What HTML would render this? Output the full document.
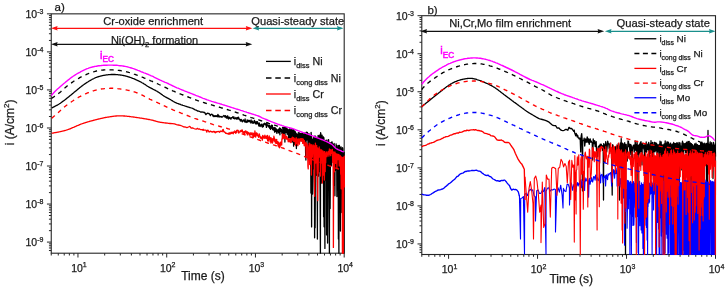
<!DOCTYPE html><html><head><meta charset="utf-8"><style>html,body{margin:0;padding:0;background:#fff;}body{width:725px;height:288px;overflow:hidden;position:relative;}svg text{font-family:"Liberation Sans",sans-serif;fill:#1a1a1a;stroke:#1a1a1a;stroke-width:0.25px;}svg{will-change:transform;}</style></head><body><svg width="725" height="288" viewBox="0 0 725 288" style="position:absolute;left:0;top:0">
<rect width="725" height="288" fill="#fff"/>
<rect x="51.25" y="13.85" width="292.95" height="239.35" fill="none" stroke="#262626" stroke-width="1.1"/>
<path d="M46.95,13.85H51.25M48.95,40.44H51.25M48.95,33.74H51.25M48.95,28.99H51.25M48.95,25.30H51.25M48.95,22.29H51.25M48.95,19.74H51.25M48.95,17.54H51.25M48.95,15.59H51.25M46.95,51.89H51.25M48.95,78.48H51.25M48.95,71.78H51.25M48.95,67.03H51.25M48.95,63.34H51.25M48.95,60.33H51.25M48.95,57.78H51.25M48.95,55.58H51.25M48.95,53.63H51.25M46.95,89.93H51.25M48.95,116.52H51.25M48.95,109.82H51.25M48.95,105.07H51.25M48.95,101.38H51.25M48.95,98.37H51.25M48.95,95.82H51.25M48.95,93.62H51.25M48.95,91.67H51.25M46.95,127.97H51.25M48.95,154.56H51.25M48.95,147.86H51.25M48.95,143.11H51.25M48.95,139.42H51.25M48.95,136.41H51.25M48.95,133.86H51.25M48.95,131.66H51.25M48.95,129.71H51.25M46.95,166.01H51.25M48.95,192.60H51.25M48.95,185.90H51.25M48.95,181.15H51.25M48.95,177.46H51.25M48.95,174.45H51.25M48.95,171.90H51.25M48.95,169.70H51.25M48.95,167.75H51.25M46.95,204.05H51.25M48.95,230.64H51.25M48.95,223.94H51.25M48.95,219.19H51.25M48.95,215.50H51.25M48.95,212.49H51.25M48.95,209.94H51.25M48.95,207.74H51.25M48.95,205.79H51.25M46.95,242.09H51.25M48.95,250.53H51.25M48.95,247.98H51.25M48.95,245.78H51.25M48.95,243.83H51.25M51.25,253.20V255.50M58.28,253.20V255.50M64.22,253.20V255.50M69.36,253.20V255.50M73.90,253.20V255.50M77.96,253.20V257.50M104.68,253.20V255.50M120.31,253.20V255.50M131.39,253.20V255.50M140.00,253.20V255.50M147.02,253.20V255.50M152.96,253.20V255.50M158.11,253.20V255.50M162.65,253.20V255.50M166.71,253.20V257.50M193.42,253.20V255.50M209.05,253.20V255.50M220.14,253.20V255.50M228.74,253.20V255.50M235.77,253.20V255.50M241.71,253.20V255.50M246.85,253.20V255.50M251.39,253.20V255.50M255.45,253.20V257.50M282.17,253.20V255.50M297.80,253.20V255.50M308.88,253.20V255.50M317.49,253.20V255.50M324.51,253.20V255.50M330.45,253.20V255.50M335.60,253.20V255.50M340.14,253.20V255.50M344.20,253.20V257.50" stroke="#262626" stroke-width="1" fill="none"/>
<text x="25.45" y="18.15" font-size="10.5">10<tspan font-size="7" dy="-3.9">-3</tspan></text>
<text x="25.45" y="56.19" font-size="10.5">10<tspan font-size="7" dy="-3.9">-4</tspan></text>
<text x="25.45" y="94.23" font-size="10.5">10<tspan font-size="7" dy="-3.9">-5</tspan></text>
<text x="25.45" y="132.27" font-size="10.5">10<tspan font-size="7" dy="-3.9">-6</tspan></text>
<text x="25.45" y="170.31" font-size="10.5">10<tspan font-size="7" dy="-3.9">-7</tspan></text>
<text x="25.45" y="208.35" font-size="10.5">10<tspan font-size="7" dy="-3.9">-8</tspan></text>
<text x="25.45" y="246.39" font-size="10.5">10<tspan font-size="7" dy="-3.9">-9</tspan></text>
<text x="71.16" y="271.80" font-size="10.5">10<tspan font-size="7" dy="-4.6">1</tspan></text>
<text x="159.91" y="271.80" font-size="10.5">10<tspan font-size="7" dy="-4.6">2</tspan></text>
<text x="248.65" y="271.80" font-size="10.5">10<tspan font-size="7" dy="-4.6">3</tspan></text>
<text x="337.40" y="271.80" font-size="10.5">10<tspan font-size="7" dy="-4.6">4</tspan></text>
<text x="54.5" y="10.8" font-size="11.5">a)</text>
<text transform="translate(14.0,122.4) rotate(-90)" text-anchor="middle" font-size="12">i (A/cm<tspan font-size="8" dy="-4.8">2</tspan><tspan dy="4.8">)</tspan></text>
<text x="203.0" y="279.9" text-anchor="middle" font-size="12">Time (s)</text>
<rect x="421.8" y="15.7" width="293.70" height="238.80" fill="none" stroke="#262626" stroke-width="1.1"/>
<path d="M417.50,15.70H421.80M419.50,42.29H421.80M419.50,35.59H421.80M419.50,30.84H421.80M419.50,27.15H421.80M419.50,24.14H421.80M419.50,21.59H421.80M419.50,19.39H421.80M419.50,17.44H421.80M417.50,53.74H421.80M419.50,80.33H421.80M419.50,73.63H421.80M419.50,68.88H421.80M419.50,65.19H421.80M419.50,62.18H421.80M419.50,59.63H421.80M419.50,57.43H421.80M419.50,55.48H421.80M417.50,91.78H421.80M419.50,118.37H421.80M419.50,111.67H421.80M419.50,106.92H421.80M419.50,103.23H421.80M419.50,100.22H421.80M419.50,97.67H421.80M419.50,95.47H421.80M419.50,93.52H421.80M417.50,129.82H421.80M419.50,156.41H421.80M419.50,149.71H421.80M419.50,144.96H421.80M419.50,141.27H421.80M419.50,138.26H421.80M419.50,135.71H421.80M419.50,133.51H421.80M419.50,131.56H421.80M417.50,167.86H421.80M419.50,194.45H421.80M419.50,187.75H421.80M419.50,183.00H421.80M419.50,179.31H421.80M419.50,176.30H421.80M419.50,173.75H421.80M419.50,171.55H421.80M419.50,169.60H421.80M417.50,205.90H421.80M419.50,232.49H421.80M419.50,225.79H421.80M419.50,221.04H421.80M419.50,217.35H421.80M419.50,214.34H421.80M419.50,211.79H421.80M419.50,209.59H421.80M419.50,207.64H421.80M417.50,243.94H421.80M419.50,252.38H421.80M419.50,249.83H421.80M419.50,247.63H421.80M419.50,245.68H421.80M421.80,254.50V256.80M428.84,254.50V256.80M434.80,254.50V256.80M439.96,254.50V256.80M444.51,254.50V256.80M448.58,254.50V258.80M475.37,254.50V256.80M491.03,254.50V256.80M502.15,254.50V256.80M510.77,254.50V256.80M517.82,254.50V256.80M523.77,254.50V256.80M528.93,254.50V256.80M533.48,254.50V256.80M537.56,254.50V258.80M564.34,254.50V256.80M580.01,254.50V256.80M591.12,254.50V256.80M599.74,254.50V256.80M606.79,254.50V256.80M612.75,254.50V256.80M617.91,254.50V256.80M622.46,254.50V256.80M626.53,254.50V258.80M653.31,254.50V256.80M668.98,254.50V256.80M680.09,254.50V256.80M688.72,254.50V256.80M695.76,254.50V256.80M701.72,254.50V256.80M706.88,254.50V256.80M711.43,254.50V256.80M715.50,254.50V258.80" stroke="#262626" stroke-width="1" fill="none"/>
<text x="396.00" y="20.00" font-size="10.5">10<tspan font-size="7" dy="-3.9">-3</tspan></text>
<text x="396.00" y="58.04" font-size="10.5">10<tspan font-size="7" dy="-3.9">-4</tspan></text>
<text x="396.00" y="96.08" font-size="10.5">10<tspan font-size="7" dy="-3.9">-5</tspan></text>
<text x="396.00" y="134.12" font-size="10.5">10<tspan font-size="7" dy="-3.9">-6</tspan></text>
<text x="396.00" y="172.16" font-size="10.5">10<tspan font-size="7" dy="-3.9">-7</tspan></text>
<text x="396.00" y="210.20" font-size="10.5">10<tspan font-size="7" dy="-3.9">-8</tspan></text>
<text x="396.00" y="248.24" font-size="10.5">10<tspan font-size="7" dy="-3.9">-9</tspan></text>
<text x="441.78" y="273.10" font-size="10.5">10<tspan font-size="7" dy="-4.6">1</tspan></text>
<text x="530.76" y="273.10" font-size="10.5">10<tspan font-size="7" dy="-4.6">2</tspan></text>
<text x="619.73" y="273.10" font-size="10.5">10<tspan font-size="7" dy="-4.6">3</tspan></text>
<text x="708.70" y="273.10" font-size="10.5">10<tspan font-size="7" dy="-4.6">4</tspan></text>
<text x="427.4" y="13.5" font-size="11.5">b)</text>
<text transform="translate(384.6,123.1) rotate(-90)" text-anchor="middle" font-size="12">i (A/cm<tspan font-size="8" dy="-4.8">2</tspan><tspan dy="4.8">)</tspan></text>
<text x="571.2" y="283.4" text-anchor="middle" font-size="12">Time (s)</text>
<polyline points="51.8,107.9 52.0,107.8 52.4,107.6 52.8,107.4 53.3,107.1 53.8,106.9 54.3,106.6 54.9,106.3 55.5,106.0 56.1,105.7 56.7,105.4 57.2,105.1 57.8,104.8 58.3,104.5 58.8,104.2 59.4,103.8 59.9,103.5 60.4,103.2 60.9,102.8 61.4,102.5 61.9,102.1 62.4,101.7 62.9,101.3 63.5,100.9 64.1,100.5 64.7,100.0 65.1,99.7 65.6,99.3 66.1,98.9 66.6,98.5 67.1,98.1 67.6,97.7 68.1,97.3 68.6,96.9 69.1,96.5 69.7,96.0 70.2,95.6 70.7,95.1 71.3,94.7 71.9,94.2 72.4,93.8 73.0,93.3 73.5,92.9 73.9,92.5 74.4,92.1 74.9,91.7 75.4,91.3 75.9,90.9 76.4,90.5 76.9,90.1 77.4,89.7 77.9,89.2 78.4,88.8 78.9,88.4 79.4,88.0 79.9,87.6 80.4,87.1 81.0,86.7 81.5,86.3 82.0,85.9 82.5,85.6 83.0,85.2 83.5,84.8 84.0,84.5 84.5,84.1 85.1,83.7 85.6,83.4 86.1,83.0 86.7,82.7 87.2,82.3 87.7,82.0 88.2,81.7 88.8,81.3 89.3,81.0 89.8,80.7 90.3,80.4 90.9,80.1 91.4,79.8 91.9,79.5 92.3,79.2 92.8,79.0 93.3,78.8 93.9,78.5 94.4,78.2 95.0,78.0 95.5,77.7 96.1,77.5 96.6,77.3 97.1,77.1 97.6,76.9 98.1,76.8 98.6,76.6 99.1,76.5 99.7,76.3 100.2,76.2 100.7,76.1 101.2,75.9 101.7,75.8 102.2,75.7 102.7,75.6 103.3,75.4 103.8,75.3 104.3,75.3 104.8,75.2 105.3,75.1 105.9,75.0 106.4,74.9 106.9,74.9 107.4,74.8 107.9,74.8 108.4,74.7 109.0,74.7 109.5,74.6 110.0,74.6 110.5,74.6 111.0,74.5 111.6,74.5 112.1,74.5 112.6,74.5 113.1,74.5 113.6,74.5 114.2,74.5 114.7,74.5 115.2,74.5 115.7,74.6 116.2,74.6 116.8,74.6 117.3,74.7 117.8,74.7 118.3,74.8 118.8,74.8 119.3,74.9 119.8,74.9 120.3,75.0 120.8,75.1 121.3,75.1 121.8,75.2 122.3,75.3 122.8,75.4 123.3,75.5 123.8,75.6 124.3,75.7 124.8,75.8 125.3,75.9 125.8,76.1 126.3,76.2 126.8,76.3 127.3,76.5 127.9,76.6 128.4,76.8 128.9,77.0 129.4,77.1 130.0,77.3 130.5,77.5 131.0,77.7 131.5,77.9 132.1,78.1 132.6,78.3 133.1,78.5 133.7,78.7 134.2,78.9 134.7,79.1 135.2,79.3 135.8,79.6 136.3,79.8 136.9,80.1 137.4,80.3 138.0,80.6 138.5,80.9 139.1,81.2 139.6,81.4 140.1,81.7 140.7,82.0 141.2,82.2 141.6,82.5 142.1,82.8 142.6,83.0 143.0,83.2 143.6,83.6 144.2,84.0 144.7,84.3 145.2,84.6 145.7,85.0 146.2,85.3 146.6,85.6 147.1,85.9 147.5,86.2 148.0,86.5 148.5,86.8 149.0,87.1 149.5,87.4 150.0,87.6 150.5,87.9 151.0,88.1 151.5,88.4 152.0,88.7 152.5,88.9 153.0,89.2 153.5,89.5 154.0,89.7 154.4,90.0 154.9,90.2 155.4,90.4 155.9,90.7 156.4,91.0 156.9,91.2 157.4,91.6 158.0,91.9 158.5,92.2 159.0,92.5 159.5,92.9 160.0,93.2 160.5,93.6 161.1,94.0 161.6,94.4 162.2,94.8 162.7,95.2 163.2,95.5 163.7,95.9 164.2,96.2 164.7,96.5 165.3,96.8 165.8,97.1 166.3,97.4 166.7,97.7 167.2,97.9 167.7,98.1 168.1,98.4 168.6,98.6 169.1,98.9 169.7,99.2 170.1,99.5 170.6,99.7 171.1,100.0 171.5,100.3 172.0,100.6 172.5,100.9 173.0,101.2 173.5,101.5 174.1,101.8 174.6,102.1 175.2,102.4 175.7,102.6 176.3,102.9 176.8,103.1 177.2,103.3 177.7,103.5 178.2,103.7 178.7,103.9 179.2,104.1 179.8,104.2 180.3,104.4 180.8,104.6 181.3,104.8 181.9,105.0 182.4,105.1 182.9,105.3 183.5,105.5 184.0,105.7 184.5,105.8 185.0,106.0 185.5,106.2 186.1,106.4 186.6,106.5 187.1,106.7 187.7,106.9 188.2,107.1 188.7,107.2 189.3,107.4 189.8,107.6 190.0,107.6 191.4,108.0 192.7,108.4 194.0,109.2 195.2,109.8 196.4,110.2 197.5,111.0 198.7,111.1 199.8,111.5 200.8,112.2 201.9,112.0 202.9,112.2 203.4,112.1 203.9,112.6 204.4,112.3 204.9,112.8 205.4,113.9 205.9,114.6 206.4,114.1 206.9,113.5 207.4,113.2 207.9,113.4 208.4,113.7 208.9,113.4 209.4,113.9 209.9,114.7 210.4,115.6 210.9,114.7 211.4,114.3 211.9,114.1 212.4,114.6 212.9,116.0 213.4,115.2 213.9,116.7 214.4,116.2 214.9,115.7 215.4,116.5 215.9,115.7 216.4,116.5 216.9,115.7 217.4,116.7 217.9,114.5 218.4,116.9 218.9,115.5 219.4,116.7 219.9,117.1 220.4,116.5 220.9,116.7 221.4,116.5 221.9,117.3 222.4,116.9 222.9,116.6 223.4,115.9 223.9,115.5 224.4,115.8 224.9,117.0 225.4,115.7 225.9,117.5 226.4,116.5 226.9,118.3 227.4,115.8 227.9,116.2 228.4,119.0 228.9,117.9 229.4,117.2 229.9,118.6 230.4,117.9 230.9,119.2 231.4,117.6 231.9,117.8 232.4,117.5 232.9,116.7 233.4,118.3 233.9,116.8 234.4,118.8 234.9,118.5 235.4,118.7 235.9,117.5 236.4,119.1 236.9,118.4 237.4,117.5 237.9,119.2 238.4,117.1 238.9,118.3 239.4,119.6 239.9,119.4 240.4,121.1 240.9,119.4 241.4,119.6 241.9,121.4 242.4,121.8 242.9,120.7 243.4,119.9 243.9,120.3 244.4,121.8 244.9,121.0 245.1,119.0 245.4,121.9 245.9,122.2 246.1,122.5 246.4,122.2 246.6,121.4 246.9,121.9 247.1,119.9 247.4,120.5 247.6,122.2 247.9,120.7 248.1,120.5 248.4,121.7 248.6,120.3 248.9,120.8 249.1,121.3 249.4,121.5 249.6,120.4 249.9,121.8 250.1,121.6 250.4,122.0 250.6,122.1 250.9,123.2 251.1,119.9 251.4,122.4 251.6,122.1 251.9,122.2 252.4,122.0 252.6,121.1 252.9,123.3 253.1,122.3 253.4,122.8 253.6,122.3 253.9,123.2 254.1,122.1 254.4,120.3 254.6,121.6 254.9,121.3 255.1,122.6 255.4,123.0 255.6,123.4 255.9,124.1 256.1,121.8 256.4,122.7 256.6,121.6 256.9,122.7 257.1,123.8 257.4,121.7 257.6,123.0 257.9,123.7 258.1,123.0 258.4,123.7 258.6,125.0 258.9,126.0 259.1,122.8 259.4,123.4 259.6,126.1 259.9,125.8 260.1,124.3 260.4,125.8 260.6,125.9 260.9,126.5 261.1,125.1 261.4,125.0 261.6,124.6 261.9,124.0 262.1,124.3 262.4,127.1 262.6,125.7 262.9,125.6 263.1,125.3 263.4,126.5 263.6,124.0 263.9,124.2 264.1,123.6 264.4,123.8 264.6,123.2 264.9,124.5 265.1,123.5 265.4,124.8 265.6,124.1 265.9,124.3 266.1,123.8 266.4,127.4 266.6,124.1 266.9,123.3 267.1,125.3 267.4,125.5 267.6,125.2 267.9,125.9 268.1,125.0 268.4,126.8 268.6,126.3 268.9,127.1 269.1,126.3 269.4,125.1 269.6,128.1 269.9,126.1 270.1,128.7 270.4,127.1 270.6,129.4 270.9,128.4 271.1,125.8 271.4,125.2 271.6,127.3 271.9,128.3 272.1,125.9 272.4,125.4 272.6,129.6 272.9,127.6 273.1,129.8 273.4,127.9 273.6,128.1 273.9,127.8 274.1,130.4 274.4,128.1 274.6,132.2 274.9,127.4 275.1,130.6 275.4,131.3 275.6,128.8 275.9,128.4 276.1,131.8 276.4,129.2 276.6,131.9 276.9,133.4 277.1,129.9 277.4,131.9 277.6,130.9 277.9,131.6 278.1,130.1 278.4,129.2 278.6,132.9 278.9,131.3 279.1,129.4 279.4,131.6 279.6,128.0 279.9,134.8 280.1,128.8 280.4,130.7 280.6,128.3 280.9,131.3 281.1,129.3 281.4,129.3 281.6,131.3 281.9,133.4 282.1,132.1 282.4,130.7 282.6,136.4 282.9,127.4 283.1,132.7 283.4,137.7 283.6,127.3 283.9,128.2 284.1,132.0 284.4,131.0 284.6,127.1 284.9,142.0 285.1,131.4 285.4,129.7 285.6,127.7 285.9,127.4 286.1,132.4 286.4,128.5 286.6,131.3 286.9,128.2 287.1,134.2 287.4,133.2 287.6,129.3 287.9,134.5 288.1,129.7 288.4,130.4 288.6,138.2 288.9,130.2 289.1,138.1 289.4,129.1 289.6,137.5 289.9,128.7 290.1,134.1 290.4,130.8 290.6,138.9 290.9,137.6 291.1,130.7 291.4,129.7 291.6,133.3 291.9,131.2 292.1,142.1 292.4,140.1 292.6,130.4 292.9,129.5 293.1,131.0 293.4,129.6 293.6,146.2 293.9,130.1 294.1,139.3 294.4,144.4 294.6,131.3 294.9,135.8 295.1,131.3 295.4,132.4 295.6,138.9 295.9,133.0 296.1,138.6 296.4,148.6 296.6,133.9 296.9,135.4 297.1,145.5 297.4,134.3 297.6,138.8 297.9,134.0 298.1,140.3 298.4,135.2 298.6,140.8 298.9,133.4 299.1,139.0 299.4,134.0 299.6,139.9 299.9,133.4 300.1,136.1 300.4,139.6 300.6,135.1 300.9,140.8 301.1,133.4 301.4,138.1 301.6,135.0 301.9,134.1 302.1,136.9 302.4,140.9 302.6,133.3 302.9,137.8 303.1,135.3 303.4,134.2 303.6,139.6 303.9,142.7 304.1,134.5 304.4,133.1 304.6,136.3 304.9,134.0 305.1,139.4 305.4,133.1 305.6,152.5 305.9,160.0 306.1,134.6 306.4,132.1 306.6,140.2 306.9,133.1 307.1,139.8 307.4,132.3 307.6,138.1 307.9,133.4 308.1,158.0 308.4,151.4 308.6,134.1 308.9,142.7 309.1,134.0 309.4,134.1 309.6,149.0 309.9,135.3 310.1,158.0 310.4,157.3 310.6,137.4 310.9,193.1 311.1,132.4 311.4,137.0 311.6,226.9 311.9,137.8 312.1,182.5 312.4,139.5 312.6,194.0 312.9,175.0 313.1,140.1 313.4,146.4 313.6,137.6 313.9,139.8 314.1,169.0 314.4,138.8 314.6,237.8 314.9,135.9 315.1,227.7 315.4,180.0 315.6,136.4 315.9,137.7 316.1,175.2 316.4,138.3 316.6,172.0 316.9,153.2 317.1,138.0 317.4,239.0 317.6,140.0 317.9,149.8 318.1,135.4 318.4,176.2 318.6,136.3 318.9,135.9 319.1,153.8 319.4,171.6 319.6,137.4 319.9,134.8 320.1,188.3 320.4,253.2 320.6,132.7 320.9,134.1 321.1,183.4 321.4,182.1 321.6,139.1 321.9,164.3 322.1,135.2 322.4,140.3 322.6,166.9 322.9,163.3 323.1,137.8 323.4,136.8 323.6,216.7 323.9,137.6 324.1,226.8 324.4,142.9 324.6,153.4 324.9,248.4 325.1,140.3 325.4,176.9 325.6,141.5 325.9,180.0 326.1,142.4 326.4,140.2 326.6,234.9 326.9,141.2 327.1,197.3 327.4,141.8 327.6,243.0 327.9,183.5 328.1,139.8 328.4,185.0 328.6,139.7 328.9,145.4 329.1,168.0 329.4,253.0 329.6,143.3 329.9,142.7 330.1,208.5 330.4,165.6 330.6,143.6 330.9,142.8 331.1,145.5 331.4,165.8 331.6,142.2 331.9,161.9 332.1,142.0 332.4,161.7 332.6,144.0 332.9,152.3 333.1,144.5 333.4,145.6 333.6,185.6 333.9,159.7 334.1,143.4 334.4,147.2 334.6,162.4 334.9,195.8 335.1,152.0 335.4,170.5 335.6,147.1 335.9,156.1 336.1,143.9 336.4,165.6 336.6,145.4 336.9,196.6 337.1,148.4 337.4,180.4 337.6,146.9 337.9,182.8 338.1,145.4 338.4,239.0 338.6,152.1 338.9,253.2 339.1,146.3 339.4,145.3 339.6,151.3 339.9,146.8 340.1,176.6 340.4,231.0 340.6,149.6 340.9,158.5 341.1,147.0 341.4,185.0 341.6,149.5 341.9,212.5 342.1,148.6 342.4,169.9 342.6,147.7 342.9,149.0 343.1,190.6 343.4,152.1 343.6,192.8 343.9,253.0 344.1,152.0" fill="none" stroke="#000000" stroke-width="1.3" stroke-linejoin="round"/>
<polyline points="51.5,98.5 52.2,98.0 53.0,97.4 54.1,96.7 55.3,95.9 56.5,95.0 57.7,94.2 58.8,93.3 59.9,92.4 61.0,91.5 62.1,90.5 63.2,89.5 64.2,88.5 65.3,87.6 66.3,86.7 67.4,85.8 68.4,85.0 69.3,84.3 70.3,83.6 71.4,82.9 72.5,82.1 73.4,81.5 74.4,80.8 75.5,80.2 76.5,79.5 77.6,78.9 78.7,78.3 79.7,77.7 80.8,77.1 81.8,76.6 82.9,76.0 83.9,75.5 85.0,75.0 86.1,74.6 87.1,74.1 88.2,73.7 89.2,73.3 90.2,72.9 91.2,72.5 92.2,72.2 93.2,71.9 94.3,71.6 95.3,71.3 96.4,71.0 97.5,70.8 98.4,70.6 99.4,70.5 100.4,70.3 101.4,70.2 102.4,70.1 103.5,70.0 104.5,69.9 105.5,69.9 106.5,69.8 107.5,69.8 108.6,69.8 109.6,69.8 110.7,69.8 111.7,69.8 112.7,69.9 113.8,70.0 114.8,70.0 115.7,70.1 116.7,70.2 117.8,70.3 118.8,70.4 119.8,70.5 120.8,70.6 121.7,70.8 122.7,70.9 123.7,71.1 124.7,71.3 125.7,71.5 126.8,71.8 127.8,72.1 128.8,72.4 129.9,72.7 130.9,73.0 132.0,73.4 133.0,73.7 134.0,74.1 135.1,74.4 136.1,74.8 137.1,75.2 138.2,75.6 139.2,76.0 140.3,76.4 141.3,76.8 142.3,77.2 143.4,77.6 144.4,78.1 145.5,78.5 146.6,79.0 147.6,79.4 148.7,79.9 149.7,80.3 150.7,80.8 151.8,81.2 152.8,81.7 153.9,82.1 154.9,82.6 155.9,83.1 157.0,83.5 158.0,84.0 159.0,84.5 160.1,85.0 161.1,85.5 162.1,85.9 163.2,86.4 164.2,86.9 165.3,87.4 166.3,87.9 167.3,88.4 168.4,88.9 169.4,89.4 170.5,89.8 171.6,90.3 172.6,90.8 173.7,91.2 174.7,91.7 175.7,92.1 176.8,92.6 177.8,93.0 178.9,93.4 179.9,93.8 180.9,94.2 182.0,94.6 183.0,95.0 184.0,95.4 185.1,95.8 186.1,96.2 187.1,96.6 188.2,97.0 189.2,97.4 190.3,97.8 191.3,98.2 192.3,98.6 193.4,99.0 194.4,99.4 195.5,99.8 196.5,100.2 197.6,100.6 198.6,100.9 199.7,101.3 200.8,101.6 201.8,102.0 202.9,102.3 204.0,102.6 205.1,103.0 206.2,103.3 207.2,103.6 208.3,103.9 209.4,104.2 210.4,104.5 211.5,104.8 212.5,105.2 213.6,105.5 214.6,105.8 215.7,106.1 216.7,106.4 217.7,106.7 218.8,107.0 219.8,107.3 220.9,107.7 221.9,108.0 222.9,108.3 224.0,108.6 225.0,108.9 226.0,109.2 227.1,109.5 228.1,109.8 229.1,110.1 230.2,110.4 231.2,110.7 232.3,111.1 233.3,111.4 234.3,111.7 235.4,112.1 236.4,112.5 237.5,112.8 238.6,113.2 239.6,113.6 240.7,113.9 241.7,114.3 242.8,114.7 243.8,115.1 244.9,115.4 246.0,115.8 247.0,116.2 248.0,116.6 249.0,116.9 250.0,117.2 251.2,117.6 252.3,117.9 253.3,118.2 254.4,118.5 255.5,118.8 256.7,119.2 257.6,119.5 258.6,119.8 259.5,120.1 260.5,120.5 261.6,120.8 262.6,121.2 263.8,121.6 265.0,122.0 265.9,122.3 266.9,122.6 267.9,123.0 268.9,123.3 270.0,123.6 271.1,124.0 272.2,124.3 273.3,124.7 274.4,125.1 275.6,125.4 276.7,125.8 277.7,126.1 278.6,126.4 279.6,126.7 280.6,127.0 281.6,127.3 282.6,127.7 283.7,128.0 284.7,128.3 285.7,128.6 286.8,129.0 287.8,129.3 288.9,129.6 290.0,130.0 291.0,130.3 291.9,130.6 292.9,130.9 293.9,131.3 294.9,131.6 295.9,131.9 296.9,132.3 297.9,132.6 298.9,132.9 299.9,133.3 301.0,133.6 302.0,134.0 303.0,134.3 304.0,134.7 305.0,135.0 306.0,135.4 307.0,135.7 308.0,136.1 309.1,136.4 310.1,136.8 311.1,137.2 312.1,137.5 313.1,137.9 314.1,138.3 315.1,138.6 316.1,139.0 317.1,139.4 318.1,139.8 319.1,140.1 320.0,140.5 321.1,140.9 322.1,141.4 323.2,141.8 324.2,142.2 325.3,142.6 326.3,143.1 327.3,143.5 328.3,143.9 329.2,144.3 330.2,144.8 331.1,145.2 332.1,145.6 333.0,146.0 334.2,146.5 335.5,147.1 336.7,147.7 338.0,148.3 339.2,148.8 340.3,149.4 341.3,149.9 342.3,150.3 343.1,150.7 343.7,151.0" fill="none" stroke="#000000" stroke-width="1.35" stroke-dasharray="4.1,4.2" stroke-linejoin="round"/>
<polyline points="51.7,133.3 52.0,133.2 52.3,133.2 52.6,133.1 52.9,133.1 53.3,133.0 53.7,132.9 54.1,132.8 54.6,132.7 55.0,132.7 55.5,132.6 56.0,132.5 56.5,132.4 57.1,132.3 57.6,132.2 58.2,132.1 58.7,132.0 59.3,131.8 59.9,131.7 60.4,131.6 61.0,131.5 61.6,131.3 62.2,131.2 62.8,131.1 63.4,130.9 63.9,130.8 64.5,130.6 65.1,130.5 65.6,130.3 66.2,130.2 66.7,130.0 67.2,129.8 67.7,129.7 68.1,129.5 68.6,129.3 69.1,129.1 69.6,129.0 70.1,128.8 70.6,128.6 71.1,128.4 71.6,128.2 72.1,127.9 72.6,127.7 73.1,127.5 73.6,127.3 74.1,127.1 74.6,126.8 75.1,126.6 75.7,126.4 76.2,126.2 76.7,125.9 77.2,125.7 77.7,125.5 78.2,125.3 78.7,125.1 79.2,124.9 79.7,124.6 80.3,124.4 80.8,124.2 81.3,124.0 81.8,123.8 82.3,123.7 82.8,123.5 83.3,123.3 83.8,123.1 84.3,123.0 84.8,122.8 85.4,122.6 85.9,122.5 86.4,122.3 87.0,122.1 87.5,122.0 88.0,121.8 88.6,121.7 89.1,121.5 89.6,121.4 90.2,121.2 90.7,121.1 91.3,120.9 91.8,120.8 92.3,120.6 92.9,120.5 93.4,120.4 93.9,120.2 94.4,120.1 94.9,120.0 95.4,119.8 95.9,119.7 96.4,119.6 96.9,119.5 97.4,119.3 97.8,119.2 98.3,119.1 98.7,119.0 99.2,118.9 99.6,118.8 100.0,118.7 100.7,118.5 101.3,118.4 101.9,118.3 102.4,118.1 103.0,118.0 103.5,117.9 104.0,117.8 104.5,117.7 105.0,117.6 105.4,117.5 105.9,117.4 106.3,117.4 106.8,117.3 107.2,117.2 107.7,117.1 108.1,117.1 108.6,117.0 109.0,116.9 109.5,116.9 110.0,116.8 110.5,116.7 111.0,116.7 111.5,116.6 111.9,116.5 112.4,116.4 112.9,116.4 113.4,116.3 113.8,116.2 114.3,116.2 114.8,116.1 115.3,116.1 115.8,116.0 116.3,116.0 116.8,115.9 117.3,115.9 117.8,115.8 118.3,115.8 118.9,115.8 119.4,115.8 120.0,115.8 120.5,115.8 120.9,115.8 121.4,115.8 121.8,115.8 122.3,115.9 122.8,115.9 123.3,115.9 123.7,116.0 124.2,116.0 124.7,116.0 125.2,116.1 125.7,116.1 126.2,116.2 126.7,116.2 127.3,116.3 127.8,116.3 128.3,116.4 128.8,116.4 129.4,116.5 129.9,116.6 130.5,116.6 131.0,116.7 131.6,116.8 132.2,116.9 132.7,116.9 133.3,117.0 133.8,117.1 134.2,117.1 134.7,117.2 135.2,117.3 135.7,117.3 136.2,117.4 136.7,117.5 137.3,117.6 137.8,117.6 138.3,117.7 138.9,117.8 139.4,117.9 139.9,118.0 140.5,118.1 141.0,118.1 141.6,118.2 142.1,118.3 142.7,118.4 143.2,118.5 143.7,118.6 144.3,118.7 144.8,118.8 145.3,118.8 145.8,118.9 146.3,119.0 146.8,119.1 147.3,119.2 147.8,119.3 148.3,119.4 148.7,119.5 149.2,119.5 149.6,119.6 150.0,119.7 150.6,119.8 151.3,120.0 151.9,120.1 152.4,120.2 152.9,120.4 153.5,120.5 154.0,120.6 154.4,120.8 154.9,120.9 155.4,121.0 155.8,121.2 156.2,121.3 156.7,121.4 157.1,121.5 157.6,121.7 158.0,121.8 158.5,121.9 159.0,122.0 159.5,122.1 160.0,122.2 160.5,122.3 161.0,122.4 161.5,122.4 162.0,122.5 162.5,122.6 163.0,122.7 163.5,122.7 164.0,122.8 164.6,122.8 165.1,122.9 165.6,123.0 166.1,123.0 166.7,123.1 167.2,123.1 167.7,123.2 168.2,123.3 168.7,123.3 169.2,123.4 169.7,123.5 170.0,123.5 172.3,123.7 174.5,123.9 176.5,124.6 178.4,125.0 180.3,125.4 182.0,126.0 183.7,126.8 185.3,127.0 186.9,127.7 188.4,127.0 189.8,126.3 191.2,128.2 192.5,127.8 193.8,128.5 195.0,128.9 196.2,129.2 197.4,128.4 198.5,129.2 199.6,129.0 200.7,129.7 201.7,129.7 202.7,130.1 203.2,129.2 203.7,130.3 204.2,130.0 204.7,130.2 205.2,130.1 205.7,130.2 206.2,130.4 206.7,132.2 207.2,130.8 207.7,130.1 208.2,130.5 208.7,131.5 209.2,132.0 209.7,131.7 210.2,131.1 210.7,131.1 211.2,131.8 211.7,131.6 212.2,131.9 212.7,132.1 213.2,131.5 213.7,131.5 214.2,132.0 214.7,131.4 215.2,132.9 215.7,132.3 216.2,131.7 216.7,132.1 217.2,131.7 217.7,131.7 218.2,131.4 218.7,131.7 219.2,131.8 219.7,132.3 220.2,131.1 220.7,131.4 221.2,131.1 221.7,131.3 222.2,131.7 222.7,129.8 223.2,129.4 223.7,131.5 224.2,132.0 224.7,132.0 225.2,132.6 225.7,133.3 226.2,133.1 226.7,133.5 227.2,133.4 227.7,133.9 228.2,133.5 228.7,134.2 229.2,132.7 229.7,134.0 230.2,134.1 230.7,132.7 231.2,132.2 231.7,133.5 232.2,132.7 232.7,132.2 233.2,133.8 233.7,131.9 234.2,132.5 234.7,132.3 235.2,131.9 235.7,133.4 236.2,132.7 236.7,130.3 237.2,130.2 237.7,130.3 238.2,130.4 238.7,133.0 239.2,132.3 239.7,131.9 240.2,130.9 240.7,131.8 241.2,130.1 241.7,131.5 242.2,129.9 242.7,132.0 243.2,133.3 243.7,131.8 244.2,131.6 244.7,134.7 244.9,132.3 245.2,131.3 245.4,130.9 245.7,132.1 245.9,131.7 246.2,131.3 246.4,132.5 246.7,133.4 246.9,133.8 247.2,131.9 247.4,134.9 247.7,132.0 247.9,133.9 248.2,132.9 248.4,132.7 248.7,133.1 248.9,133.7 249.2,134.9 249.4,135.2 249.7,133.4 249.9,133.1 250.2,132.8 250.4,134.5 250.7,134.2 250.9,135.0 251.2,134.7 251.4,134.5 251.7,132.9 251.9,134.2 252.2,133.0 252.4,134.1 252.7,134.0 252.9,137.2 253.2,137.5 253.4,134.5 253.7,133.2 253.9,135.5 254.2,136.6 254.4,136.1 254.7,136.2 254.9,131.0 255.2,134.5 255.4,135.9 255.7,137.1 255.9,135.9 256.2,133.4 256.4,132.8 256.7,135.2 256.9,134.0 257.2,133.3 257.4,135.5 257.7,135.5 257.9,135.6 258.2,136.4 258.4,135.2 258.7,137.3 258.9,134.8 259.2,133.8 259.4,134.1 259.7,136.0 259.9,136.1 260.2,136.8 260.4,138.1 260.7,137.4 260.9,137.0 261.2,136.9 261.4,138.6 261.7,138.4 261.9,138.0 262.2,137.4 262.4,140.1 262.7,135.4 262.9,138.0 263.2,137.1 263.4,136.7 263.7,136.4 263.9,138.2 264.2,138.3 264.4,135.8 264.7,137.0 264.9,135.2 265.2,138.2 265.4,138.1 265.7,136.9 265.9,137.9 266.2,136.1 266.4,138.7 266.7,136.8 266.9,136.4 267.2,137.9 267.4,135.4 267.7,140.9 267.9,139.2 268.2,137.5 268.4,141.0 268.7,139.7 268.9,138.2 269.2,136.0 269.4,137.8 269.7,139.4 269.9,137.4 270.2,141.6 270.4,138.2 270.7,138.0 270.9,143.0 271.2,138.0 271.4,141.9 271.7,138.8 271.9,141.6 272.2,140.1 272.4,143.0 272.7,138.6 272.9,141.8 273.2,139.5 273.4,140.5 273.7,138.7 273.9,136.2 274.2,139.0 274.4,137.9 274.7,141.5 274.9,139.1 275.2,139.5 275.4,143.0 275.7,139.9 275.9,142.6 276.2,141.6 276.4,143.3 276.7,139.4 276.9,143.2 277.2,141.9 277.4,143.5 277.7,141.7 277.9,144.6 278.2,146.1 278.4,142.2 278.7,143.9 278.9,146.9 279.2,145.2 279.4,147.8 279.7,143.1 279.9,147.0 280.2,145.8 280.4,142.1 280.7,145.2 280.9,144.8 281.2,142.2 281.4,144.9 281.7,145.0 281.9,139.0 282.2,139.2 282.4,133.8 282.7,137.2 282.9,136.8 283.2,138.6 283.4,134.4 283.7,136.5 283.9,135.1 284.2,137.3 284.4,134.3 284.7,138.6 284.9,136.5 285.2,136.2 285.4,138.0 285.7,137.4 285.9,136.3 286.2,136.7 286.4,139.1 286.7,136.1 286.9,136.8 287.2,137.6 287.4,138.2 287.7,139.6 287.9,138.7 288.2,141.8 288.4,138.6 288.7,139.6 288.9,140.4 289.2,139.4 289.4,141.6 289.7,141.8 289.9,138.9 290.2,139.3 290.4,141.5 290.7,138.6 290.9,142.7 291.2,142.0 291.4,138.4 291.7,139.9 291.9,137.9 292.2,138.5 292.4,137.2 292.7,138.4 292.9,140.5 293.2,137.7 293.4,140.3 293.7,141.4 293.9,137.8 294.2,139.2 294.4,141.3 294.7,141.1 294.9,138.9 295.2,140.6 295.4,145.5 295.7,139.5 295.9,141.4 296.2,137.7 296.4,143.6 296.7,141.8 296.9,139.0 297.2,143.9 297.4,139.4 297.7,139.2 297.9,145.7 298.2,139.3 298.4,140.5 298.7,138.8 298.9,141.1 299.2,139.5 299.4,144.2 299.7,140.0 299.9,138.8 300.2,139.5 300.4,139.0 300.7,138.7 300.9,139.8 301.2,141.3 301.4,138.7 301.7,138.7 301.9,139.6 302.2,140.7 302.4,139.0 302.7,143.4 302.9,138.7 303.2,140.2 303.4,139.4 303.7,140.7 303.9,142.6 304.2,145.6 304.4,140.7 304.7,145.0 304.9,142.0 305.2,143.0 305.4,146.2 305.7,144.6 305.9,143.1 306.2,157.2 306.4,143.0 306.7,144.5 306.9,147.1 307.2,144.3 307.4,146.8 307.7,145.7 307.9,166.3 308.2,168.9 308.4,147.9 308.7,149.1 308.9,159.6 309.2,143.1 309.4,148.2 309.7,164.5 309.9,146.5 310.2,144.2 310.4,148.7 310.7,145.1 310.9,163.9 311.2,145.1 311.4,175.0 311.7,144.7 311.9,157.8 312.2,146.4 312.4,157.1 312.7,145.9 312.9,151.3 313.2,144.8 313.4,153.7 313.7,145.8 313.9,159.5 314.2,146.1 314.4,178.0 314.7,196.3 314.9,145.6 315.2,160.0 315.4,143.1 315.7,163.1 315.9,149.2 316.2,159.2 316.4,145.7 316.7,145.4 316.9,161.4 317.2,174.2 317.4,147.8 317.7,200.7 317.9,162.1 318.2,173.2 318.4,148.9 318.7,152.6 318.9,150.4 319.2,146.9 319.4,157.0 319.7,148.8 319.9,151.0 320.2,150.8 320.4,176.0 320.7,150.0 320.9,162.1 321.2,154.9 321.4,149.9 321.7,150.1 321.9,157.6 322.2,152.3 322.4,183.1 322.7,156.9 322.9,150.9 323.2,157.2 323.4,172.0 323.7,175.1 323.9,152.5 324.2,151.6 324.4,180.0 324.7,151.6 324.9,153.5 325.2,171.6 325.4,153.1 325.7,162.8 325.9,153.3 326.2,156.0 326.4,151.8 326.7,154.0 326.9,156.7 327.2,155.8 327.4,154.2 327.7,154.3 327.9,152.5 328.2,151.4 328.4,153.1 328.7,152.1 328.9,156.2 329.2,154.4 329.4,149.0 329.7,149.8 329.9,151.0 330.2,151.9 330.4,153.6 330.7,155.7 330.9,149.7 331.2,150.6 331.4,152.6 331.7,152.2 331.9,153.5 332.2,153.6 332.4,149.4 332.7,162.6 332.9,151.3 333.2,152.5 333.4,247.4 333.7,153.6 333.9,152.3 334.2,153.2 334.4,171.8 334.7,161.1 334.9,151.8 335.2,153.3 335.4,155.6 335.7,163.3 335.9,154.0 336.2,154.4 336.4,153.8 336.7,154.5 336.9,168.3 337.2,154.6 337.4,158.9 337.7,154.2 337.9,159.7 338.2,155.6 338.4,159.5 338.7,158.2 338.9,154.3 339.2,166.1 339.4,155.8 339.7,161.8 339.9,156.3 340.2,155.5 340.4,158.2 340.7,174.3 340.9,156.9 341.2,188.8 341.4,157.0 341.7,160.2 341.9,175.0 342.2,161.4 342.4,253.2 342.7,157.5 342.9,240.0 343.2,158.6 343.4,253.0 343.7,157.2 343.9,161.9 344.2,156.2 344.4,187.4" fill="none" stroke="#ff0000" stroke-width="1.3" stroke-linejoin="round"/>
<polyline points="51.7,118.3 52.4,117.7 53.4,116.8 54.6,115.8 55.9,114.6 57.1,113.5 58.3,112.5 59.4,111.5 60.4,110.6 61.4,109.6 62.4,108.6 63.5,107.7 64.7,106.7 65.6,106.0 66.6,105.2 67.7,104.5 68.7,103.7 69.8,103.0 70.9,102.2 71.9,101.5 73.0,100.8 74.0,100.1 75.1,99.5 76.1,98.8 77.1,98.2 78.2,97.5 79.2,96.9 80.3,96.4 81.3,95.8 82.3,95.3 83.4,94.8 84.4,94.3 85.5,93.8 86.6,93.3 87.6,92.9 88.7,92.5 89.7,92.1 90.7,91.7 91.8,91.4 92.8,91.0 93.9,90.7 94.9,90.4 95.9,90.1 97.0,89.8 98.0,89.6 99.0,89.4 100.1,89.2 101.1,89.0 102.2,88.9 103.2,88.8 104.3,88.7 105.3,88.6 106.3,88.5 107.4,88.4 108.4,88.3 109.5,88.3 110.5,88.2 111.6,88.2 112.7,88.2 114.0,88.3 114.9,88.4 115.8,88.4 116.8,88.5 117.8,88.7 118.9,88.8 119.9,88.9 121.0,89.1 122.1,89.2 123.1,89.4 124.1,89.5 125.0,89.7 126.1,89.9 127.2,90.1 128.2,90.3 129.2,90.5 130.2,90.8 131.2,91.0 132.1,91.3 133.1,91.5 134.0,91.8 135.2,92.2 136.3,92.6 137.4,93.0 138.4,93.4 139.5,93.9 140.6,94.4 141.7,94.9 142.7,95.4 143.7,95.9 144.7,96.5 145.7,97.0 146.7,97.6 147.8,98.2 148.9,98.7 150.0,99.3 150.9,99.7 151.9,100.2 152.9,100.6 153.9,101.1 154.9,101.5 155.9,102.0 156.9,102.4 158.0,102.9 159.0,103.3 160.0,103.8 161.0,104.3 162.0,104.7 163.0,105.2 163.9,105.7 164.9,106.2 165.9,106.7 166.9,107.2 167.9,107.7 169.0,108.1 170.0,108.6 171.0,109.0 172.0,109.4 173.0,109.9 174.0,110.3 175.0,110.7 176.1,111.1 177.1,111.5 178.1,111.9 179.1,112.3 180.1,112.7 181.1,113.1 182.2,113.5 183.2,113.9 184.3,114.3 185.3,114.8 186.3,115.2 187.3,115.5 188.3,115.9 189.3,116.3 190.2,116.7 191.1,117.0 192.3,117.5 193.5,117.9 194.5,118.3 195.6,118.7 196.7,119.0 197.7,119.4 198.9,119.8 200.0,120.2 201.1,120.5 202.2,120.9 203.4,121.2 204.5,121.6 205.6,121.9 206.7,122.3 207.8,122.6 209.0,123.0 210.1,123.4 211.2,123.8 212.2,124.2 213.3,124.6 214.4,124.9 215.6,125.3 216.7,125.6 217.8,125.9 218.9,126.2 220.1,126.5 221.2,126.8 222.3,127.0 223.4,127.3 224.4,127.6 225.5,127.9 226.5,128.2 227.3,128.5 228.3,128.8 229.5,129.2 231.1,129.8 231.9,130.1 232.7,130.4 233.6,130.7 234.6,131.1 235.6,131.4 236.7,131.8 237.7,132.2 238.8,132.6 240.0,133.0 241.1,133.4 242.2,133.9 243.4,134.3 244.5,134.7 245.6,135.1 246.7,135.5 247.7,135.9 248.7,136.2 249.7,136.6 250.8,137.0 251.8,137.4 252.8,137.8 253.9,138.1 254.9,138.5 256.0,138.9 257.0,139.3 258.1,139.7 259.1,140.0 260.2,140.4 261.2,140.8 262.3,141.1 263.3,141.5 264.4,141.9 265.4,142.2 266.6,142.6 267.7,143.0 268.8,143.3 270.0,143.7 271.1,144.1 272.2,144.4 273.3,144.8 274.4,145.1 275.5,145.5 276.5,145.8 277.4,146.1 278.4,146.4 279.2,146.7 280.0,147.0 281.5,147.6 282.8,148.0 283.8,148.4 284.6,148.8 285.5,149.2 286.4,149.6 287.5,150.0 288.4,150.3 289.4,150.7 290.4,151.0 291.3,151.4 292.4,151.7 293.4,152.1 294.5,152.5 295.6,152.9 296.7,153.3 297.6,153.7 298.6,154.0 299.5,154.4 300.5,154.8 301.5,155.2 302.5,155.7 303.6,156.1 304.7,156.6 305.8,157.0 307.0,157.5 308.3,158.0 309.2,158.3 310.1,158.7 311.0,159.0 312.0,159.4 312.9,159.8 313.9,160.1 315.0,160.5 316.0,160.9 317.1,161.3 318.1,161.7 319.2,162.1 320.3,162.5 321.3,162.8 322.4,163.2 323.5,163.6 324.5,164.0 325.6,164.4 326.6,164.8 327.7,165.2 328.8,165.6 330.0,166.0 331.1,166.4 332.3,166.8 333.5,167.3 334.7,167.7 335.9,168.1 337.0,168.5 338.1,168.9 339.2,169.3 340.2,169.6 341.1,170.0 342.0,170.3 342.8,170.6 343.4,170.8 344.0,171.0" fill="none" stroke="#ff0000" stroke-width="1.35" stroke-dasharray="4.1,4.2" stroke-linejoin="round"/>
<polyline points="51.3,95.4 52.0,94.7 52.9,93.7 54.0,92.5 55.2,91.2 56.5,90.0 57.5,89.1 58.5,88.2 59.6,87.2 60.7,86.2 61.9,85.2 63.0,84.3 64.2,83.3 65.2,82.5 66.2,81.6 67.3,80.7 68.3,79.9 69.4,79.1 70.4,78.2 71.5,77.4 72.5,76.7 73.5,76.0 74.6,75.3 75.6,74.7 76.6,74.0 77.7,73.4 78.7,72.8 79.8,72.3 80.8,71.7 81.8,71.2 82.9,70.6 83.9,70.1 85.0,69.6 86.1,69.1 87.1,68.7 88.2,68.3 89.2,67.9 90.2,67.6 91.3,67.3 92.3,67.0 93.4,66.8 94.4,66.5 95.4,66.4 96.5,66.2 97.5,66.0 98.5,65.8 99.6,65.7 100.6,65.6 101.6,65.5 102.7,65.4 103.7,65.3 104.8,65.3 105.8,65.2 106.9,65.2 108.0,65.1 109.1,65.1 110.2,65.1 111.2,65.1 112.3,65.1 113.3,65.2 114.2,65.2 115.5,65.3 116.7,65.3 117.8,65.4 118.8,65.6 120.0,65.7 121.0,65.8 122.0,65.9 123.0,66.0 124.0,66.2 125.1,66.4 126.3,66.6 127.3,66.8 128.3,67.1 129.3,67.4 130.4,67.7 131.5,68.0 132.6,68.4 133.6,68.7 134.7,69.1 135.7,69.5 136.8,69.9 137.8,70.3 138.9,70.7 139.9,71.1 140.9,71.6 142.0,72.0 143.0,72.4 144.0,72.8 145.1,73.2 146.1,73.6 147.1,74.0 148.2,74.4 149.2,74.9 150.3,75.3 151.3,75.8 152.3,76.2 153.4,76.7 154.4,77.3 155.5,77.8 156.6,78.3 157.6,78.9 158.7,79.4 159.7,79.9 160.8,80.4 161.9,80.9 163.0,81.3 164.1,81.8 165.1,82.3 166.2,82.7 167.1,83.1 168.0,83.5 169.2,84.1 170.1,84.5 170.9,85.0 171.8,85.4 173.0,86.0 173.9,86.4 174.8,86.8 175.9,87.3 176.9,87.8 178.0,88.2 179.1,88.7 180.2,89.2 181.3,89.6 182.3,90.0 183.4,90.4 184.4,90.9 185.5,91.3 186.6,91.7 187.6,92.1 188.7,92.5 189.7,92.9 190.7,93.3 191.7,93.7 192.7,94.1 193.7,94.5 194.7,94.9 195.8,95.4 196.9,95.8 198.0,96.2 199.0,96.6 200.0,97.0 201.0,97.4 202.1,97.9 203.1,98.3 204.2,98.7 205.3,99.1 206.3,99.5 207.3,99.9 208.3,100.2 209.4,100.6 210.5,100.9 211.6,101.3 212.6,101.6 213.6,101.9 214.7,102.2 215.7,102.5 216.7,102.8 217.7,103.1 218.8,103.4 219.8,103.7 220.9,104.0 221.9,104.4 222.9,104.7 224.0,105.0 225.0,105.3 226.0,105.6 227.1,106.0 228.1,106.3 229.1,106.6 230.2,107.0 231.2,107.3 232.3,107.7 233.3,108.0 234.3,108.3 235.4,108.7 236.4,109.0 237.5,109.3 238.6,109.6 239.6,109.9 240.7,110.3 241.7,110.6 242.7,110.9 243.8,111.3 244.8,111.6 245.9,111.9 246.9,112.3 247.9,112.6 249.0,113.0 250.0,113.3 251.1,113.6 252.2,114.0 253.3,114.3 254.4,114.7 255.4,115.0 256.5,115.4 257.4,115.7 258.3,116.0 259.5,116.5 260.4,116.9 261.2,117.3 262.1,117.8 263.3,118.3 264.2,118.7 265.2,119.1 266.2,119.5 267.3,120.0 268.4,120.5 269.5,120.9 270.6,121.4 271.7,121.8 272.7,122.2 273.8,122.6 274.8,123.0 275.9,123.4 276.9,123.8 277.9,124.2 279.0,124.5 280.0,124.9 281.1,125.2 282.2,125.6 283.3,125.9 284.4,126.3 285.4,126.6 286.5,126.9 287.4,127.1 288.3,127.4 289.5,127.7 290.4,128.0 291.2,128.2 292.1,128.5 293.3,128.9 294.2,129.2 295.2,129.6 296.2,130.0 297.3,130.4 298.4,130.8 299.5,131.2 300.6,131.6 301.7,132.0 302.7,132.4 303.8,132.7 304.8,133.1 305.9,133.4 306.9,133.8 307.9,134.1 309.0,134.5 310.0,134.9 311.0,135.3 312.1,135.7 313.1,136.1 314.1,136.5 315.2,137.0 316.2,137.4 317.3,137.8 318.3,138.2 319.4,138.7 320.5,139.1 321.6,139.5 322.7,139.9 323.7,140.3 324.8,140.8 325.8,141.2 326.7,141.6 328.1,142.3 329.3,143.0 330.5,143.6 331.5,144.3 332.5,145.0 333.7,146.2 334.6,147.3 336.0,148.5 336.9,149.0 338.1,149.6 339.4,150.2 340.7,150.7 341.9,151.3 343.0,151.7 343.7,152.0" fill="none" stroke="#ff00ff" stroke-width="1.4" stroke-linejoin="round"/>
<polyline points="421.7,106.7 422.0,106.5 422.4,106.2 422.8,105.8 423.3,105.4 423.8,105.0 424.4,104.5 425.0,104.1 425.6,103.6 426.2,103.1 426.8,102.6 427.3,102.2 427.8,101.8 428.3,101.4 428.8,101.0 429.3,100.5 429.8,100.2 430.3,99.8 430.7,99.4 431.1,99.1 431.6,98.7 432.1,98.3 432.7,97.8 433.3,97.3 433.7,96.9 434.2,96.6 434.7,96.2 435.2,95.7 435.8,95.3 436.3,94.9 436.9,94.4 437.5,94.0 438.1,93.5 438.6,93.0 439.2,92.6 439.7,92.2 440.3,91.7 440.8,91.3 441.3,91.0 441.7,90.6 442.4,90.1 442.9,89.6 443.5,89.2 444.0,88.8 444.5,88.4 445.0,88.0 445.4,87.6 445.9,87.3 446.4,86.9 447.0,86.5 447.5,86.2 448.0,85.8 448.5,85.5 449.0,85.1 449.5,84.8 450.1,84.5 450.6,84.1 451.1,83.8 451.7,83.5 452.2,83.2 452.8,82.9 453.3,82.6 453.8,82.4 454.3,82.1 454.8,81.9 455.3,81.7 455.8,81.5 456.3,81.3 456.8,81.1 457.3,80.9 457.8,80.7 458.3,80.5 458.9,80.3 459.4,80.2 460.0,80.0 460.5,79.9 461.0,79.7 461.5,79.6 462.0,79.5 462.6,79.4 463.2,79.2 463.7,79.1 464.3,79.0 464.8,78.9 465.4,78.8 465.9,78.7 466.4,78.7 466.9,78.6 467.4,78.5 467.9,78.4 468.3,78.4 469.0,78.3 469.6,78.3 470.1,78.3 470.6,78.3 471.1,78.3 471.5,78.4 472.0,78.4 472.5,78.5 473.0,78.6 473.5,78.7 474.0,78.8 474.4,78.9 474.9,79.0 475.4,79.1 475.9,79.2 476.5,79.4 477.0,79.6 477.6,79.8 478.3,80.0 478.7,80.2 479.2,80.3 479.7,80.5 480.2,80.7 480.7,80.9 481.2,81.0 481.8,81.2 482.3,81.5 482.9,81.7 483.4,81.9 484.0,82.1 484.5,82.3 485.1,82.6 485.6,82.8 486.2,83.1 486.7,83.3 487.2,83.5 487.7,83.8 488.3,84.0 488.8,84.3 489.3,84.6 489.8,84.8 490.3,85.1 490.9,85.4 491.4,85.6 491.9,85.9 492.4,86.2 492.9,86.5 493.4,86.8 494.0,87.1 494.5,87.5 495.0,87.8 495.5,88.1 496.0,88.5 496.6,88.9 497.1,89.2 497.6,89.6 498.1,90.0 498.6,90.4 499.1,90.8 499.7,91.2 500.2,91.6 500.7,92.0 501.2,92.4 501.7,92.8 502.3,93.2 502.8,93.6 503.3,94.0 503.8,94.4 504.3,94.8 504.9,95.2 505.4,95.6 505.9,96.0 506.4,96.4 507.0,96.8 507.5,97.2 508.0,97.6 508.6,97.9 509.1,98.3 509.6,98.7 510.1,99.1 510.7,99.5 511.2,99.9 511.7,100.3 512.2,100.7 512.8,101.1 513.3,101.5 513.8,101.9 514.3,102.3 514.9,102.6 515.4,103.0 515.9,103.4 516.5,103.8 517.0,104.2 517.5,104.6 518.0,104.9 518.5,105.3 519.0,105.7 519.5,106.0 520.0,106.4 520.5,106.8 521.1,107.2 521.6,107.6 522.1,108.0 522.6,108.3 523.1,108.7 523.6,109.1 524.1,109.5 524.6,109.8 525.1,110.2 525.6,110.5 526.0,110.8 526.5,111.2 527.0,111.5 527.6,111.9 528.1,112.2 528.6,112.6 529.2,112.9 529.7,113.2 530.2,113.5 530.7,113.8 531.3,114.1 531.8,114.4 532.3,114.7 532.8,115.0 533.3,115.3 533.9,115.6 534.4,116.0 535.0,116.3 535.6,116.6 536.1,117.0 536.7,117.3 537.2,117.6 537.7,117.9 538.2,118.1 538.7,118.4 539.2,118.6 539.8,118.8 540.0,118.9 542.3,119.5 544.6,120.1 546.6,120.8 548.6,121.8 550.5,123.5 552.3,125.1 554.0,125.6 555.6,125.7 557.2,128.1 558.7,127.8 560.1,129.4 561.5,130.4 562.9,130.7 564.2,130.3 565.4,129.5 566.6,129.5 567.8,130.3 569.0,127.3 570.1,128.5 571.2,128.4 572.2,129.1 573.2,130.5 573.7,131.3 574.2,130.2 574.7,133.1 575.2,134.2 575.7,135.8 576.2,133.4 576.7,134.5 577.2,136.9 577.7,135.3 578.2,137.8 578.7,137.9 579.2,139.0 579.7,138.0 580.2,138.5 580.7,151.9 581.2,135.9 581.7,133.6 582.2,140.2 582.5,190.9 582.7,141.0 583.2,140.7 583.7,140.3 584.2,138.2 584.7,146.0 585.2,142.0 585.7,138.9 586.2,142.1 586.7,142.1 587.2,136.9 587.7,138.6 588.2,142.5 588.7,138.8 589.2,144.3 589.7,141.2 590.2,138.9 590.7,142.1 591.2,141.1 591.7,142.3 592.2,142.5 592.7,160.0 593.2,138.9 593.7,143.3 594.2,143.6 594.7,140.7 595.2,146.5 595.7,144.1 596.2,141.7 596.7,157.5 597.2,152.4 597.7,156.4 598.2,146.9 598.7,146.3 599.2,145.7 599.7,147.3 600.2,144.2 600.7,148.7 601.2,144.2 601.7,145.5 602.2,145.8 602.7,150.4 603.2,145.5 603.5,200.0 603.7,143.6 604.2,144.3 604.7,161.4 605.2,153.7 605.7,141.6 606.2,144.6 606.7,152.0 607.2,146.6 607.7,141.1 608.2,142.9 608.7,144.3 609.2,148.7 609.7,144.8 610.2,143.2 610.7,150.1 611.2,151.6 611.7,152.3 612.2,195.0 612.5,151.0 612.7,144.6 613.2,146.5 613.7,158.4 614.2,158.6 614.7,147.4 615.2,162.6 615.7,146.7 616.0,155.4 616.2,146.2 616.5,146.8 616.7,149.8 617.0,148.6 617.2,146.5 617.5,152.9 617.7,145.1 618.0,164.5 618.2,143.7 618.5,144.5 618.7,145.6 619.0,148.9 619.2,146.7 619.5,200.0 619.7,151.6 620.0,151.7 620.2,144.4 620.5,142.8 620.7,152.8 621.0,150.4 621.2,138.6 621.5,150.5 621.7,150.8 622.0,148.2 622.2,166.8 622.5,143.1 622.7,150.3 623.0,167.6 623.2,144.0 623.5,197.1 623.7,166.5 624.0,147.6 624.2,153.3 624.5,145.0 624.7,142.7 625.0,146.0 625.2,149.1 625.5,254.5 625.7,147.0 626.0,144.4 626.2,144.4 626.5,149.9 626.7,149.3 627.0,147.3 627.2,161.0 627.5,147.1 627.7,147.3 628.0,141.0 628.2,143.2 628.5,141.3 628.7,146.5 629.0,145.0 629.2,146.6 629.5,144.2 629.7,149.0 630.0,154.6 630.2,152.5 630.5,151.3 630.7,144.3 631.0,149.9 631.2,145.2 631.5,147.8 631.7,171.4 632.0,162.1 632.2,161.4 632.5,147.2 632.7,149.2 633.0,146.0 633.2,147.3 633.5,145.3 633.7,145.4 634.0,145.0 634.2,152.1 634.5,146.8 634.7,149.0 635.0,150.6 635.2,140.9 635.5,148.0 635.7,149.9 636.0,144.4 636.2,148.4 636.5,144.6 636.7,163.2 637.0,141.2 637.2,143.8 637.5,161.3 637.7,154.0 638.0,186.3 638.2,147.9 638.5,145.1 638.7,150.2 639.0,147.2 639.2,154.1 639.5,144.3 639.7,153.4 640.0,143.2 640.2,148.4 640.5,142.2 640.7,151.8 641.0,141.7 641.2,147.8 641.5,144.0 641.7,145.2 642.0,164.9 642.2,148.3 642.5,143.3 642.7,146.3 643.0,148.2 643.2,145.2 643.5,147.7 643.7,145.1 644.0,149.4 644.2,148.2 644.5,157.9 644.7,158.6 645.0,143.7 645.2,149.5 645.5,156.9 645.7,147.8 646.0,151.7 646.2,142.0 646.5,152.1 646.7,151.4 647.0,146.7 647.2,149.5 647.5,148.7 647.7,144.2 648.0,148.6 648.2,149.7 648.5,143.7 648.7,142.3 649.0,157.2 649.2,158.3 649.5,145.9 649.7,149.1 650.0,147.5 650.2,143.8 650.5,153.4 650.7,153.4 651.0,140.7 651.2,144.1 651.5,148.8 651.7,169.7 652.0,143.4 652.2,157.5 652.5,142.4 652.7,153.9 653.0,144.9 653.2,148.2 653.5,179.5 653.7,149.7 654.0,146.4 654.2,142.4 654.5,147.6 654.7,142.5 655.0,151.8 655.2,142.6 655.5,149.3 655.7,148.9 656.0,143.8 656.2,150.7 656.5,143.1 656.7,146.0 657.0,154.6 657.2,144.4 657.5,152.3 657.7,146.0 658.0,149.2 658.2,144.8 658.5,150.7 658.7,145.1 659.0,157.6 659.2,162.4 659.5,144.0 659.7,172.8 660.0,141.2 660.2,146.2 660.5,217.7 660.7,160.5 661.0,143.3 661.2,141.9 661.5,163.0 661.7,144.5 662.0,153.8 662.2,158.4 662.5,145.5 662.7,146.0 663.0,231.9 663.2,144.8 663.5,150.5 663.7,145.8 664.0,196.0 664.2,143.8 664.5,157.3 664.7,158.1 665.0,146.2 665.2,140.9 665.5,157.4 665.7,157.0 666.0,144.9 666.2,143.4 666.5,173.1 666.7,182.4 667.0,141.9 667.2,151.5 667.5,144.7 667.7,159.0 668.0,142.0 668.2,159.5 668.5,142.4 668.7,147.0 669.0,145.1 669.2,145.2 669.5,159.2 669.7,144.3 670.0,159.6 670.2,143.3 670.5,163.3 670.7,143.2 671.0,152.1 671.2,144.4 671.5,162.8 671.7,144.8 672.0,181.7 672.2,253.0 672.5,144.5 672.7,164.5 673.0,146.0 673.2,143.5 673.5,231.5 673.7,142.5 674.0,212.1 674.2,143.5 674.5,149.9 674.7,164.8 675.0,143.6 675.2,147.0 675.5,175.7 675.7,143.7 676.0,160.3 676.2,172.2 676.5,143.0 676.7,186.0 677.0,144.6 677.2,149.7 677.5,142.9 677.7,166.5 678.0,145.4 678.2,162.2 678.5,144.3 678.7,154.7 679.0,142.4 679.2,199.3 679.5,148.6 679.7,152.9 680.0,142.9 680.2,145.1 680.5,149.0 680.7,145.9 681.0,164.4 681.2,169.9 681.5,145.9 681.7,161.0 682.0,143.0 682.2,150.7 682.5,141.1 682.7,145.7 683.0,157.0 683.2,143.0 683.5,178.9 683.7,149.8 684.0,144.2 684.2,145.0 684.5,149.4 684.7,143.7 685.0,150.1 685.2,149.1 685.5,143.4 685.7,152.8 686.0,147.7 686.2,148.9 686.5,142.2 686.7,152.6 687.0,142.7 687.2,145.4 687.5,151.3 687.7,148.4 688.0,141.3 688.2,151.6 688.5,142.4 688.7,157.2 689.0,144.7 689.2,141.3 689.5,254.0 689.7,147.8 690.0,144.1 690.2,153.5 690.5,142.9 690.7,153.6 691.0,144.9 691.2,254.0 691.5,143.6 691.7,147.3 692.0,162.8 692.2,169.9 692.5,144.7 692.7,154.0 693.0,145.1 693.2,147.2 693.5,177.2 693.7,146.6 694.0,155.0 694.2,164.9 694.5,145.9 694.7,143.8 695.0,152.9 695.2,144.8 695.5,174.5 695.7,158.8 696.0,143.2 696.2,146.7 696.5,178.7 696.7,158.6 697.0,144.9 697.2,144.7 697.5,169.1 697.7,144.9 698.0,159.6 698.2,145.4 698.5,189.3 698.7,145.7 699.0,214.1 699.2,145.6 699.5,168.8 699.7,145.6 700.0,182.0 700.2,159.4 700.5,145.0 700.7,142.8 701.0,166.9 701.2,145.3 701.5,167.6 701.7,150.6 702.0,142.2 702.2,143.5 702.5,154.9 702.7,146.8 703.0,162.3 703.2,143.3 703.5,158.2 703.7,162.2 704.0,145.0 704.2,146.5 704.5,163.1 704.7,143.1 705.0,154.8 705.2,155.8 705.5,145.1 705.7,158.6 706.0,144.8 706.2,143.7 706.5,183.6 706.7,165.9 707.0,143.3 707.2,148.0 707.5,209.6 707.7,156.1 708.0,130.5 708.2,143.4 708.5,172.2 708.7,144.6 709.0,152.8 709.2,168.6 709.5,147.0 709.7,153.5 710.0,142.8 710.2,141.8 710.5,157.6 710.7,145.3 711.0,153.2 711.2,143.7 711.5,162.3 711.7,142.7 712.0,151.4 712.2,146.8 712.5,156.3 712.7,145.2 713.0,178.6 713.2,157.0 713.5,142.4 713.7,154.8 714.0,145.6 714.2,154.7 714.5,145.8 714.7,146.2 715.0,155.0 715.2,144.0 715.5,156.5" fill="none" stroke="#000000" stroke-width="1.3" stroke-linejoin="round"/>
<polyline points="421.7,194.1 422.6,194.3 423.8,194.8 425.0,194.9 426.1,195.2 427.2,195.2 428.3,195.4 429.5,195.0 430.7,194.5 432.0,193.5 433.1,192.9 434.3,192.1 435.5,191.3 436.7,190.8 437.7,190.2 438.7,190.0 439.7,189.9 440.7,189.6 441.7,189.1 442.7,189.0 443.8,188.2 444.8,187.2 445.9,186.4 447.0,185.4 448.0,184.6 449.1,183.6 450.2,183.0 451.4,181.9 452.4,181.0 453.3,180.2 454.7,179.2 455.8,177.9 457.0,176.5 458.1,176.2 459.3,174.8 460.5,173.8 461.7,173.3 462.8,173.2 463.9,172.4 465.0,171.4 466.0,171.5 467.0,171.1 468.0,170.9 468.9,171.0 470.0,170.8 471.0,170.7 472.0,170.4 473.1,170.5 474.1,170.6 475.0,170.3 476.3,170.2 477.4,170.7 478.5,171.1 479.6,171.2 480.6,171.6 481.7,172.7 482.7,173.4 483.8,174.2 485.0,175.0 485.9,175.3 486.9,175.5 488.0,175.1 489.0,176.1 490.0,176.5 491.0,176.8 492.0,178.1 493.0,179.0 494.2,179.5 495.2,180.1 496.3,180.8 497.5,180.7 498.7,181.0 499.8,181.4 500.8,180.6 502.0,180.3 503.1,180.6 504.1,180.0 505.0,180.4 506.2,181.7 507.2,183.1 508.3,184.4 509.5,185.5 510.7,188.7 511.7,190.1 513.3,189.2 514.4,189.6 515.6,189.5 516.7,189.8 518.3,191.8 519.4,196.2" fill="none" stroke="#0000ff" stroke-width="1.35" stroke-linejoin="round"/>
<polyline points="519.4,195.2 520.5,239.0 520.7,198.4 522.1,197.9 523.4,196.5 524.5,254.0 524.7,194.3 526.1,193.6 527.4,195.6 528.7,191.4 530.1,189.2 531.4,190.7 532.7,189.9 534.1,195.7 535.4,197.0 535.5,221.0 536.7,190.7 538.1,189.9 539.4,193.4 540.7,193.5 542.1,190.7 543.4,191.6 544.7,187.6 546.0,254.0 546.1,191.3 547.4,188.3 548.7,187.8 550.1,191.2 551.4,189.6 552.7,190.1 554.1,189.0 555.4,189.6 555.5,232.0 556.7,193.4 558.1,187.8 559.4,192.1 560.7,185.2 562.1,194.8 563.0,208.0 563.4,188.4 564.7,191.1 565.9,191.6 567.1,184.4 568.3,184.3 569.4,187.9 569.5,205.0 570.5,182.0 571.6,184.1 572.6,190.3 573.6,184.9 574.1,184.5 574.6,188.3 575.1,181.0 575.6,184.1 576.1,191.5 576.6,186.0 577.1,183.3 577.6,182.6 578.1,186.0 578.6,184.6 579.1,182.8 579.6,184.3 580.1,183.6 580.6,180.4 581.1,179.7 581.6,187.7 582.1,182.2 582.6,181.3 583.1,185.8 583.6,178.5 584.1,184.2 584.6,190.5 585.1,177.8 585.6,180.9 586.1,181.0 586.6,179.7 587.1,178.2 587.6,178.6 588.1,182.9 588.6,197.3 589.1,180.2 589.6,178.4 590.1,184.3 590.6,181.3 591.1,181.4 591.6,177.6 592.1,180.7 592.6,182.0 593.1,180.1 593.6,176.5 594.1,176.5 594.6,177.9 595.1,180.2 595.6,175.0 596.1,175.2 596.6,180.2 597.1,178.2 597.6,177.8 598.1,180.7 598.6,180.0 599.1,179.9 599.6,171.9 600.1,177.3 600.6,182.9 601.1,175.1 601.6,174.6 602.1,174.3 602.6,177.0 603.1,182.7 603.6,177.0 604.1,176.9 604.6,177.7 605.1,175.2 605.6,186.0 606.1,176.1 606.6,174.8 607.1,178.8 607.6,179.6 608.1,173.7 608.6,175.2 609.1,174.5 609.6,173.4 610.1,173.6 610.6,172.5 611.1,176.3 611.6,186.0 612.1,170.6 612.6,179.4 613.1,173.0 613.6,169.5 614.1,170.7 614.6,178.2 615.1,170.6 615.6,172.9 615.9,173.8 616.1,168.0 616.4,171.2 616.6,172.4 616.9,170.7 617.1,186.1 617.4,173.1 617.6,173.6 617.9,175.8 618.1,179.6 618.4,175.7 618.6,176.5 618.9,176.0 619.1,177.5 619.4,182.3 619.6,180.0 619.9,181.4 620.1,187.0 620.4,180.0 620.6,178.6 620.9,183.7 621.1,179.1 621.4,179.7 621.6,187.9 621.9,182.7 622.1,203.1 622.4,178.8 622.6,178.8 622.9,178.9 623.1,179.2 623.4,182.0 623.6,198.1 623.9,181.5 624.1,181.5 624.4,239.1 624.6,245.3 624.9,189.1 625.1,199.5 625.4,183.8 625.6,211.4 625.9,183.5 626.1,180.7 626.4,203.9 626.6,201.5 626.9,189.5 627.1,228.2 627.4,211.0 627.6,180.4 627.9,182.4 628.1,181.3 628.4,208.8 628.6,180.8 628.9,181.8 629.1,198.3 629.4,190.1 629.6,183.3 629.9,254.5 630.1,182.3 630.4,213.9 630.6,181.4 630.9,184.3 631.1,182.0 631.4,254.5 631.6,183.7 631.9,186.7 632.1,184.3 632.4,216.4 632.6,181.8 632.9,225.5 633.1,184.0 633.4,187.2 633.6,181.6 633.9,225.1 634.1,217.9 634.4,184.7 634.6,183.2 634.9,198.1 635.1,182.8 635.4,207.5 635.6,181.9 635.9,214.3 636.1,184.4 636.4,242.4 636.6,200.8 636.9,184.9 637.1,216.4 637.4,210.9 637.6,185.1 637.9,183.3 638.1,252.7 638.4,182.6 638.6,254.5 638.9,184.9 639.1,211.2 639.4,218.1 639.6,181.3 639.9,225.7 640.1,188.3 640.4,219.3 640.6,185.2 640.9,197.8 641.1,229.9 641.4,182.9 641.6,187.7 641.9,233.0 642.1,189.4 642.4,184.4 642.6,184.4 642.9,248.5 643.1,184.8 643.4,254.5 643.6,254.5 643.9,184.6 644.1,182.4 644.4,222.7 644.6,184.5 644.9,183.8 645.1,185.8 645.4,182.6 645.6,184.2 645.9,225.3 646.1,187.0 646.4,227.4 646.6,217.9 646.9,182.2 647.1,240.1 647.4,183.0 647.6,254.5 647.9,180.9 648.1,206.5 648.4,185.7 648.6,184.5 648.9,189.5 649.1,202.9 649.4,183.1 649.6,201.9 649.9,184.4 650.1,194.8 650.4,184.5 650.6,186.1 650.9,193.6 651.1,182.9 651.4,187.0 651.6,181.9 651.9,189.5 652.1,254.5 652.4,187.3 652.6,192.4 652.9,183.0 653.1,197.8 653.4,181.8 653.6,209.9 653.9,184.4 654.1,183.0 654.4,193.2 654.6,192.7 654.9,182.3 655.1,194.5 655.4,183.2 655.6,201.6 655.9,245.3 656.1,185.9 656.4,184.0 656.6,254.5 656.9,186.3 657.1,180.4 657.4,222.5 657.6,182.4 657.9,208.9 658.1,183.7 658.4,212.1 658.6,229.1 658.9,183.6 659.1,254.5 659.4,183.8 659.6,182.4 659.9,254.5 660.1,183.5 660.4,209.1 660.6,181.2 660.9,185.6 661.1,181.3 661.4,236.1 661.6,182.9 661.9,254.5 662.1,213.2 662.4,184.3 662.6,181.5 662.9,223.1 663.1,182.8 663.4,254.5 663.6,181.0 663.9,197.0 664.1,182.2 664.4,254.5 664.6,227.6 664.9,181.7 665.1,253.0 665.4,186.2 665.6,183.5 665.9,203.9 666.1,184.7 666.4,234.3 666.6,183.7 666.9,186.7 667.1,238.3 667.4,185.0 667.6,181.6 667.9,254.5 668.1,191.0 668.4,181.9 668.6,184.9 668.9,253.1 669.1,183.3 669.4,199.4 669.6,182.1 669.9,206.7 670.1,182.4 670.4,254.5 670.6,254.5 670.9,183.1 671.1,254.5 671.4,185.3 671.6,254.5 671.9,183.6 672.1,183.8 672.4,254.5 672.6,254.5 672.9,183.6 673.1,254.5 673.4,185.4 673.6,254.5 673.9,183.6 674.1,181.9 674.4,254.5 674.6,254.5 674.9,183.6 675.1,181.5 675.4,254.5 675.6,254.5 675.9,182.8 676.1,182.1 676.4,254.5 676.6,254.5 676.9,182.0 677.1,181.7 677.4,254.5 677.6,254.5 677.9,183.2 678.1,211.5 678.4,180.2 678.6,182.5 678.9,254.5 679.1,182.3 679.4,254.5 679.6,182.4 679.9,254.5 680.1,183.1 680.4,254.5 680.6,182.6 680.9,254.5 681.1,182.4 681.4,254.5 681.6,254.5 681.9,183.4 682.1,254.5 682.4,182.7 682.6,181.1 682.9,254.5 683.1,254.5 683.4,182.2 683.6,250.1 683.9,180.2 684.1,182.3 684.4,254.5 684.6,183.7 684.9,254.5 685.1,183.3 685.4,254.5 685.6,183.3 685.9,254.5 686.1,182.3 686.4,254.5 686.6,254.5 686.9,183.1 687.1,182.1 687.4,254.5 687.6,183.8 687.9,254.5 688.1,182.2 688.4,254.5 688.6,254.5 688.9,182.3 689.1,254.5 689.4,180.4 689.6,254.5 689.9,182.7 690.1,182.1 690.4,254.5 690.6,180.7 690.9,254.5 691.1,184.0 691.4,254.5 691.6,254.5 691.9,180.4 692.1,183.0 692.4,253.3 692.6,180.2 692.9,254.5 693.1,182.7 693.4,254.5 693.6,254.5 693.9,181.4 694.1,254.5 694.4,179.5 694.6,184.0 694.9,254.5 695.1,254.5 695.4,180.0 695.6,254.5 695.9,182.7 696.1,185.0 696.4,254.5 696.6,182.5 696.9,254.5 697.1,182.5 697.4,254.5 697.6,254.5 697.9,180.9 698.1,254.5 698.4,183.0 698.6,180.1 698.9,254.5 699.1,183.0 699.4,254.5 699.6,254.5 699.9,181.2 700.1,181.0 700.4,254.5 700.6,254.5 700.9,182.1 701.1,181.3 701.4,254.5 701.6,254.5 701.9,182.6 702.1,254.5 702.4,182.1 702.6,182.6 702.9,254.5 703.1,181.4 703.4,254.5 703.6,254.5 703.9,184.4 704.1,254.5 704.4,183.0 704.6,254.5 704.9,182.1 705.1,254.5 705.4,182.9 705.6,254.5 705.9,180.0 706.1,182.8 706.4,254.5 706.6,182.1 706.9,254.5 707.1,182.1 707.4,254.5 707.6,254.5 707.9,182.1 708.1,182.1 708.4,254.5 708.6,182.9 708.9,236.4 709.1,254.0 709.4,180.8 709.6,254.5 709.9,182.0 710.1,254.5 710.4,182.0 710.6,180.6 710.9,218.5 711.1,181.9 711.4,254.5 711.6,254.5 711.9,182.6 712.1,181.3 712.4,254.5 712.6,184.2 712.9,254.5 713.1,181.6 713.4,254.5 713.6,183.7 713.9,254.5 714.1,182.4 714.4,227.2 714.6,254.5 714.9,179.7 715.1,182.0 715.4,254.5" fill="none" stroke="#0000ff" stroke-width="1.1" stroke-linejoin="round"/>
<polyline points="421.7,146.7 422.4,146.3 423.2,145.9 424.3,145.6 425.5,145.3 426.7,144.8 428.0,144.0 429.0,143.8 430.0,143.2 431.1,143.0 432.2,142.6 433.4,142.4 434.5,141.8 435.6,141.2 436.7,140.5 437.8,140.1 438.8,139.8 439.8,139.6 440.9,139.1 441.9,138.5 442.9,138.1 444.0,137.4 445.0,137.2 446.0,136.6 447.1,136.6 448.1,136.4 449.1,135.9 450.2,135.2 451.2,135.0 452.3,134.7 453.3,134.2 454.3,133.7 455.4,133.7 456.4,133.2 457.5,133.0 458.6,133.0 459.6,132.1 460.7,132.4 461.7,132.2 462.8,131.6 463.8,131.1 464.9,130.6 466.0,130.9 467.0,130.0 468.0,130.5 469.0,130.5 470.0,130.2 471.2,129.9 472.4,129.8 473.6,129.7 474.7,130.0 475.7,129.7 476.7,130.1 477.9,130.5 478.9,130.5 479.9,130.9 481.0,131.0 482.0,131.4 483.1,132.0 484.2,133.1 485.4,133.3 486.7,133.6 487.6,134.0 488.6,134.3 489.6,134.4 490.7,135.7 491.8,135.8 492.9,136.0 493.9,136.3 495.0,137.2 496.1,138.8 497.2,140.0 498.3,140.2 499.4,140.2 500.5,140.2 501.5,140.0 502.4,140.7 503.3,140.9 504.8,142.4 505.9,142.5 507.0,142.5 508.0,142.4 509.4,143.0 510.6,144.9 511.7,146.5 512.9,148.1 514.0,149.9 515.3,153.3 516.7,156.2 518.1,159.1 519.5,161.4 520.7,163.0 521.7,163.9 523.2,166.9 524.3,169.2 525.0,199.9" fill="none" stroke="#ff0000" stroke-width="1.35" stroke-linejoin="round"/>
<polyline points="525.0,176.7 526.3,193.6 527.7,212.3 529.0,188.6 530.3,181.6 531.7,190.7 533.0,203.8 533.5,239.0 534.3,178.6 535.7,176.0 537.0,181.2 538.3,193.8 539.7,212.2 541.0,205.0 541.0,242.6 542.3,182.1 543.7,227.4 545.0,223.6 546.3,175.0 547.7,179.3 549.0,179.0 550.3,217.1 551.7,168.2 553.0,167.2 554.3,167.7 555.7,168.8 557.0,195.3 558.3,168.2 559.7,167.5 561.0,159.4 562.3,161.5 563.6,166.9 564.9,163.5 566.2,166.4 567.3,183.0 568.5,162.0 569.6,160.2 570.7,199.5 571.8,160.4 572.8,167.3 573.8,164.9 574.3,242.1 574.8,155.6 575.3,200.0 575.6,186.0 575.8,172.0 576.1,214.0 576.3,170.5 576.8,169.5 577.3,156.8 577.8,165.1 578.3,160.6 578.8,154.9 579.3,180.8 579.8,183.4 580.3,254.5 580.8,159.6 581.3,156.5 581.8,174.2 582.3,168.0 582.8,155.6 583.3,209.2 583.8,171.5 584.3,180.2 584.8,154.3 585.3,152.1 585.8,155.7 586.3,158.9 586.8,157.4 587.3,156.3 587.8,207.0 588.1,164.9 588.3,156.9 588.8,167.2 589.3,149.0 589.8,150.4 590.3,179.2 590.8,177.5 591.3,173.5 591.8,160.2 592.3,147.4 592.8,156.6 593.3,148.1 593.8,154.0 594.3,161.8 594.8,151.5 595.3,153.3 595.8,157.5 596.3,151.6 596.8,187.0 597.1,230.0 597.3,148.9 597.8,148.4 598.3,148.7 598.8,152.1 599.3,206.7 599.6,148.3 599.8,162.9 600.3,147.0 600.8,151.1 601.3,146.4 601.8,146.8 602.3,147.8 602.8,147.4 603.3,148.5 603.8,152.6 604.3,160.9 604.8,149.4 605.3,162.5 605.8,146.5 606.3,152.3 606.8,158.6 607.3,159.8 607.8,164.5 608.3,155.2 608.8,157.1 609.3,148.8 609.8,153.7 610.3,144.7 610.8,143.0 611.3,158.3 611.8,147.5 612.3,182.2 612.8,152.9 613.3,145.7 613.8,164.1 614.3,146.6 614.8,154.1 615.3,172.7 615.8,155.8 616.1,150.1 616.3,159.7 616.6,165.4 616.8,144.8 617.1,166.9 617.3,149.1 617.6,155.9 617.8,219.0 618.1,164.0 618.3,157.4 618.6,145.0 618.8,142.8 619.1,185.8 619.3,175.9 619.6,149.6 619.8,169.1 620.1,156.3 620.3,155.3 620.6,151.0 620.8,154.1 621.1,203.1 621.3,149.7 621.6,151.7 621.8,151.8 622.1,230.1 622.3,152.7 622.6,243.0 622.8,155.9 623.1,152.7 623.3,154.3 623.6,163.2 623.8,188.2 624.1,151.9 624.3,168.8 624.6,167.4 624.8,223.3 625.1,159.7 625.3,155.0 625.6,149.8 625.8,154.9 626.1,207.9 626.3,167.6 626.6,154.0 626.8,156.0 627.1,158.5 627.3,152.7 627.6,155.4 627.8,153.5 628.1,151.7 628.3,152.1 628.6,158.1 628.8,158.3 629.1,157.6 629.3,151.7 629.6,156.0 629.8,159.8 630.1,158.1 630.3,156.1 630.6,165.0 630.8,158.5 631.1,175.4 631.3,157.7 631.6,168.2 631.8,155.9 632.1,151.6 632.3,182.7 632.6,163.2 632.8,161.9 633.1,158.3 633.3,166.4 633.6,160.0 633.8,154.9 634.1,153.8 634.3,154.5 634.6,154.6 634.8,159.6 635.1,192.1 635.3,152.8 635.6,217.1 635.8,152.2 636.1,157.9 636.3,254.5 636.6,158.8 636.8,151.7 637.1,173.7 637.3,160.7 637.6,155.2 637.8,162.2 638.1,156.6 638.3,159.1 638.6,164.7 638.8,208.3 639.1,158.5 639.3,157.8 639.6,163.9 639.8,153.7 640.1,166.1 640.3,153.4 640.6,162.0 640.8,170.4 641.1,159.8 641.3,161.6 641.6,152.4 641.8,156.2 642.1,153.1 642.3,159.8 642.6,155.5 642.8,161.7 643.1,159.2 643.3,170.3 643.6,154.8 643.8,175.5 644.1,159.9 644.3,157.1 644.6,254.5 644.8,156.2 645.1,173.6 645.3,218.9 645.6,152.6 645.8,154.8 646.1,164.7 646.3,157.0 646.6,217.1 646.8,164.5 647.1,169.0 647.3,156.6 647.6,154.0 647.8,202.3 648.1,154.2 648.3,151.3 648.6,158.8 648.8,198.4 649.1,170.6 649.3,158.1 649.6,171.7 649.8,165.2 650.1,150.1 650.3,155.3 650.6,185.5 650.8,158.0 651.1,155.3 651.3,186.4 651.6,150.8 651.8,159.6 652.1,153.4 652.3,175.4 652.6,159.7 652.8,157.6 653.1,184.5 653.3,164.6 653.6,152.7 653.8,190.8 654.1,154.9 654.3,174.9 654.6,160.2 654.8,182.3 655.1,155.7 655.3,162.2 655.6,254.5 655.8,155.8 656.1,178.8 656.3,155.8 656.6,182.7 656.8,153.0 657.1,184.9 657.3,161.9 657.6,153.1 657.8,159.4 658.1,185.6 658.3,154.3 658.6,206.6 658.8,157.1 659.1,247.0 659.3,158.8 659.6,232.5 659.8,169.0 660.1,153.5 660.3,191.0 660.6,165.2 660.8,155.6 661.1,168.2 661.3,157.1 661.6,203.4 661.8,157.3 662.1,192.6 662.3,161.0 662.6,167.5 662.8,155.0 663.1,254.5 663.3,161.9 663.6,154.3 663.8,174.1 664.1,157.3 664.3,169.1 664.6,151.1 664.8,254.5 665.1,152.4 665.3,189.2 665.6,148.7 665.8,152.0 666.1,200.2 666.3,212.0 666.6,153.8 666.8,155.7 667.1,184.4 667.3,191.1 667.6,151.5 667.8,157.2 668.1,197.2 668.3,191.7 668.6,156.9 668.8,187.0 669.1,153.3 669.3,153.9 669.6,224.3 669.8,155.1 670.1,184.9 670.3,175.7 670.6,155.0 670.8,150.6 671.1,196.9 671.3,183.0 671.6,149.9 671.8,205.7 672.1,153.0 672.3,154.4 672.6,159.2 672.8,223.9 673.1,155.4 673.3,206.4 673.6,149.9 673.8,185.9 674.1,157.7 674.3,153.1 674.6,232.8 674.8,152.1 675.1,254.5 675.3,178.6 675.6,154.4 675.8,254.5 676.1,153.5 676.3,254.5 676.6,155.0 676.8,196.5 677.1,153.0 677.3,173.4 677.6,151.9 677.8,150.9 678.1,204.2 678.3,153.4 678.6,171.5 678.8,185.8 679.1,158.2 679.3,153.4 679.6,166.0 679.8,153.8 680.1,161.3 680.3,176.7 680.6,155.5 680.8,152.7 681.1,164.4 681.3,168.4 681.6,152.6 681.8,151.9 682.1,161.1 682.3,153.3 682.6,196.4 682.8,254.5 683.1,152.6 683.3,154.6 683.6,170.8 683.8,154.8 684.1,165.8 684.3,190.0 684.6,154.7 684.8,156.6 685.1,189.6 685.3,162.9 685.6,154.0 685.8,159.7 686.1,214.4 686.3,161.4 686.6,156.0 686.8,153.2 687.1,177.1 687.3,151.0 687.6,197.4 687.8,155.4 688.1,168.6 688.3,212.3 688.6,156.8 688.8,157.3 689.1,240.8 689.3,153.6 689.6,219.6 689.8,155.0 690.1,254.5 690.3,150.7 690.6,176.0 690.8,153.1 691.1,165.8 691.3,163.7 691.6,154.5 691.8,192.4 692.1,151.8 692.3,152.4 692.6,222.8 692.8,151.5 693.1,186.0 693.3,157.0 693.6,180.5 693.8,153.5 694.1,168.7 694.3,220.0 694.6,153.1 694.8,196.1 695.1,150.4 695.3,212.3 695.6,150.8 695.8,205.8 696.1,154.2 696.3,150.5 696.6,184.6 696.8,154.4 697.1,158.9 697.3,167.2 697.6,152.0 697.8,213.4 698.1,154.9 698.3,172.4 698.6,155.0 698.8,153.2 699.1,250.1 699.3,156.7 699.6,176.2 699.8,153.1 700.1,229.1 700.3,153.9 700.6,186.3 700.8,215.4 701.1,153.1 701.3,153.1 701.6,202.4 701.8,155.0 702.1,207.1 702.3,153.6 702.6,215.6 702.8,163.1 703.1,221.0 703.3,157.7 703.6,199.0 703.8,167.7 704.1,154.2 704.3,196.8 704.6,157.8 704.8,155.9 705.1,165.8 705.3,152.6 705.6,165.7 705.8,160.7 706.1,154.8 706.3,155.3 706.6,162.3 706.8,164.0 707.1,155.1 707.3,152.0 707.6,164.6 707.8,160.5 708.1,152.8 708.3,156.5 708.6,174.1 708.8,168.5 709.1,155.5 709.3,219.3 709.6,154.1 709.8,151.8 710.1,160.9 710.3,156.3 710.6,169.3 710.8,165.3 711.1,151.8 711.3,154.5 711.6,162.4 711.8,153.0 712.1,177.4 712.3,156.3 712.6,165.3 712.8,170.9 713.1,154.3 713.3,153.2 713.6,161.1 713.8,166.6 714.1,154.5 714.3,152.7 714.6,159.9 714.8,153.9 715.1,185.3 715.3,254.5 715.6,160.4" fill="none" stroke="#ff0000" stroke-width="1.1" stroke-linejoin="round"/>
<polyline points="421.7,89.4 422.4,88.7 423.2,87.7 424.3,86.6 425.5,85.4 426.7,84.1 428.0,83.0 429.0,82.2 430.0,81.4 431.1,80.6 432.2,79.8 433.4,79.0 434.5,78.2 435.6,77.4 436.7,76.7 437.8,76.0 438.8,75.3 439.8,74.6 440.9,74.0 441.9,73.3 442.9,72.7 444.0,72.2 445.0,71.6 446.0,71.1 447.1,70.6 448.1,70.1 449.1,69.6 450.2,69.2 451.2,68.8 452.3,68.4 453.3,68.0 454.3,67.6 455.4,67.2 456.4,66.9 457.5,66.5 458.6,66.2 459.6,65.9 460.7,65.6 461.7,65.3 462.7,65.0 463.8,64.8 464.8,64.6 465.9,64.4 466.9,64.2 467.9,64.1 469.0,63.9 470.0,63.8 471.0,63.7 472.1,63.6 473.1,63.6 474.1,63.5 475.2,63.5 476.2,63.5 477.3,63.5 478.3,63.6 479.3,63.7 480.4,63.8 481.4,63.9 482.5,64.1 483.6,64.3 484.6,64.4 485.7,64.7 486.7,64.9 487.7,65.2 488.8,65.4 489.8,65.8 490.9,66.1 491.9,66.4 492.9,66.8 494.0,67.1 495.0,67.5 496.0,67.9 497.1,68.2 498.1,68.6 499.1,69.0 500.2,69.4 501.2,69.9 502.3,70.3 503.3,70.7 504.3,71.1 505.4,71.6 506.4,72.0 507.5,72.5 508.6,73.0 509.6,73.4 510.7,73.9 511.7,74.4 512.7,74.9 513.8,75.4 514.8,75.9 515.9,76.4 516.9,76.9 517.9,77.5 519.0,78.0 520.0,78.5 521.1,79.0 522.1,79.6 523.2,80.1 524.3,80.7 525.4,81.2 526.4,81.7 527.4,82.2 528.3,82.7 529.6,83.4 530.7,84.0 531.8,84.5 532.9,85.1 534.2,85.8 535.1,86.3 536.1,86.8 537.2,87.3 538.2,87.8 539.3,88.4 540.4,88.9 541.5,89.5 542.5,90.0 543.6,90.6 544.7,91.3 545.8,92.0 546.8,92.6 547.9,93.3 548.9,93.9 550.0,94.5 551.0,95.1 552.1,95.6 553.1,96.1 554.1,96.5 555.2,97.0 556.3,97.5 557.5,98.0 558.4,98.4 559.4,98.7 560.4,99.1 561.4,99.5 562.4,99.8 563.5,100.2 564.5,100.6 565.6,100.9 566.6,101.3 567.5,101.6 568.6,102.0 569.7,102.4 570.7,102.7 571.8,103.0 572.8,103.4 573.8,103.7 574.8,104.1 575.8,104.4 576.8,104.8 577.9,105.1 578.9,105.5 580.0,105.8 581.1,106.2 582.1,106.5 583.2,106.9 584.2,107.2 585.3,107.5 586.3,107.8 587.4,108.1 588.5,108.4 589.6,108.6 590.6,108.9 591.6,109.1 592.5,109.4 593.8,109.8 595.0,110.1 596.1,110.5 597.2,110.8 598.3,111.2 599.4,111.6 600.5,112.1 601.6,112.5 602.8,113.1 604.2,113.6 605.1,113.9 606.0,114.3 607.0,114.7 608.1,115.0 609.1,115.4 610.2,115.8 611.3,116.2 612.3,116.6 613.3,116.9 614.4,117.3 615.5,117.6 616.5,117.9 617.6,118.2 618.6,118.5 619.7,118.8 620.7,119.1 621.7,119.4 622.8,119.7 623.9,120.0 625.0,120.3 626.1,120.6 627.1,120.9 628.2,121.2 629.2,121.5 630.3,121.9 631.4,122.2 632.5,122.6 633.6,122.9 634.7,123.3 635.8,123.6 636.8,123.9 637.9,124.2 638.9,124.5 640.0,124.7 641.1,125.0 642.2,125.3 643.3,125.5 644.3,125.7 645.4,125.9 646.5,126.1 647.6,126.3 648.7,126.4 649.8,126.6 650.8,126.8 651.7,126.9 653.0,127.1 654.2,127.2 655.3,127.3 656.4,127.5 657.5,127.6 658.6,127.8 659.7,127.9 660.8,128.1 662.0,128.4 663.3,128.6 664.2,128.8 665.2,128.9 666.3,129.1 667.3,129.3 668.4,129.5 669.5,129.7 670.6,130.0 671.7,130.2 672.7,130.4 673.8,130.7 674.8,130.9 675.9,131.2 676.9,131.5 677.9,131.8 679.0,132.1 680.0,132.5 681.0,132.9 682.1,133.4 683.1,133.8 684.1,134.3 685.2,134.9 686.2,135.4 687.3,135.9 688.3,136.4 689.4,136.9 690.5,137.5 691.6,138.0 692.7,138.6 693.8,139.1 694.8,139.6 695.8,140.1 696.7,140.5 697.8,141.0 698.5,141.4 699.3,141.7 700.2,142.1 701.7,142.5 702.5,142.7 703.4,142.9 704.5,143.2 705.6,143.4 706.8,143.7 708.0,144.0 709.3,144.3 710.5,144.5 711.6,144.8 712.7,145.0 713.6,145.2 714.4,145.4 715.0,145.5" fill="none" stroke="#000000" stroke-width="1.35" stroke-dasharray="4.1,4.2" stroke-linejoin="round"/>
<polyline points="421.7,106.9 422.5,106.1 423.6,104.9 424.9,103.6 426.2,102.2 427.5,101.0 428.7,99.9 429.8,98.8 431.0,97.8 432.1,96.8 433.3,95.8 434.4,94.9 435.6,94.1 436.7,93.3 437.8,92.5 439.0,91.8 440.0,91.2 440.9,90.6 441.8,90.0 442.8,89.5 443.9,88.9 445.0,88.3 445.9,87.8 446.9,87.3 447.9,86.8 449.0,86.3 450.1,85.8 451.2,85.4 452.2,84.9 453.3,84.5 454.3,84.1 455.4,83.8 456.4,83.5 457.5,83.2 458.6,82.9 459.6,82.7 460.7,82.4 461.7,82.2 462.7,82.0 463.7,81.8 464.7,81.6 465.6,81.5 466.6,81.3 467.7,81.2 468.8,81.2 470.0,81.1 470.9,81.1 471.9,81.1 472.9,81.0 473.9,81.0 475.0,81.0 476.1,81.1 477.2,81.1 478.3,81.2 479.4,81.3 480.6,81.4 481.7,81.6 482.7,81.8 483.7,82.0 484.7,82.2 485.8,82.4 486.8,82.7 487.9,83.0 489.0,83.3 490.1,83.6 491.1,83.9 492.1,84.2 493.1,84.6 494.1,84.9 495.0,85.2 496.1,85.6 497.3,86.1 498.3,86.5 499.4,87.0 500.4,87.5 501.4,88.0 502.3,88.5 503.3,88.9 504.1,89.4 505.0,89.8 506.3,90.4 507.4,91.0 508.5,91.5 509.5,92.0 510.5,92.6 511.7,93.2 512.7,93.7 513.7,94.2 514.7,94.7 515.8,95.3 516.8,95.8 517.9,96.4 519.0,96.9 520.0,97.5 521.0,98.1 522.1,98.7 523.1,99.2 524.1,99.8 525.2,100.4 526.2,101.0 527.3,101.6 528.3,102.2 529.4,102.8 530.4,103.4 531.5,104.0 532.6,104.6 533.7,105.1 534.7,105.7 535.7,106.2 536.7,106.7 537.9,107.3 539.0,107.8 540.0,108.2 541.0,108.6 542.1,109.1 543.3,109.6 544.3,110.0 545.3,110.5 546.3,111.0 547.4,111.5 548.5,112.0 549.6,112.5 550.6,113.0 551.7,113.4 552.7,113.8 553.8,114.2 554.8,114.6 555.9,114.9 556.9,115.2 557.9,115.6 559.0,115.9 560.0,116.3 561.0,116.7 562.1,117.0 563.1,117.4 564.1,117.8 565.2,118.1 566.2,118.5 567.3,118.9 568.3,119.2 569.3,119.6 570.4,120.0 571.4,120.3 572.4,120.7 573.4,121.0 574.5,121.4 575.6,121.8 576.7,122.2 577.6,122.5 578.6,122.9 579.6,123.3 580.7,123.6 581.7,124.0 582.7,124.4 583.8,124.8 584.8,125.1 585.8,125.5 586.7,125.8 587.8,126.2 588.9,126.5 589.9,126.8 591.0,127.2 592.0,127.5 593.0,127.8 594.0,128.1 595.0,128.4 596.0,128.7 597.1,129.0 598.1,129.4 599.1,129.7 600.2,130.0 601.2,130.3 602.3,130.7 603.3,131.0 604.3,131.4 605.4,131.7 606.4,132.1 607.5,132.5 608.6,132.9 609.6,133.3 610.7,133.6 611.7,134.0 612.7,134.3 613.8,134.7 614.9,135.0 615.9,135.3 617.0,135.7 618.0,136.0 619.0,136.3 620.0,136.6 621.1,136.9 622.3,137.3 623.4,137.6 624.4,137.9 625.5,138.2 626.5,138.5 627.5,138.8 628.7,139.2 629.9,139.5 630.9,139.8 632.1,140.1 633.3,140.5 634.3,140.8 635.3,141.1 636.4,141.4 637.6,141.7 638.7,142.0 639.8,142.3 640.8,142.6 642.0,142.9 643.1,143.2 644.1,143.5 645.2,143.7 646.3,144.0 647.5,144.2 648.5,144.5 649.6,144.6 650.7,144.8 651.8,145.0 652.9,145.2 653.9,145.3 655.0,145.5 656.0,145.7 656.8,145.8 657.6,145.9 658.5,146.1 659.4,146.2 660.6,146.4 662.0,146.6 662.8,146.7 663.6,146.8 664.5,147.0 665.5,147.1 666.5,147.2 667.5,147.4 668.6,147.5 669.7,147.7 670.8,147.8 671.9,148.0 672.9,148.1 674.0,148.2 675.0,148.4 676.0,148.5 677.0,148.6 678.0,148.7 679.0,148.8 679.9,148.9 680.8,149.0 681.6,149.1 682.4,149.2 683.3,149.2 684.2,149.3 685.2,149.4 686.2,149.5 687.4,149.6 688.6,149.7 690.0,149.8 690.8,149.9 691.7,149.9 692.6,150.0 693.6,150.1 694.6,150.2 695.7,150.3 696.8,150.4 698.0,150.5 699.2,150.6 700.3,150.7 701.5,150.8 702.7,150.9 703.9,151.0 705.1,151.1 706.2,151.2 707.3,151.3 708.4,151.4 709.5,151.5 710.5,151.6 711.4,151.7 712.3,151.8 713.1,151.8 713.8,151.9 714.5,152.0 715.0,152.0" fill="none" stroke="#ff0000" stroke-width="1.35" stroke-dasharray="4.1,4.2" stroke-linejoin="round"/>
<polyline points="421.7,138.0 422.4,137.3 423.3,136.4 424.4,135.3 425.7,134.2 426.9,133.0 428.0,132.0 429.0,131.1 430.1,130.2 431.1,129.3 432.2,128.4 433.3,127.6 434.4,126.7 435.4,126.0 436.4,125.3 437.5,124.5 438.6,123.8 439.7,123.1 440.8,122.5 442.0,121.8 442.9,121.3 443.9,120.8 444.9,120.3 445.9,119.8 446.9,119.4 447.9,118.9 449.0,118.5 450.0,118.0 451.0,117.6 452.0,117.2 453.0,116.8 454.0,116.4 455.1,116.0 456.1,115.7 457.1,115.3 458.1,115.0 459.1,114.7 460.0,114.4 461.2,114.1 462.3,113.8 463.5,113.6 464.6,113.4 465.7,113.2 466.7,113.0 467.8,112.9 468.9,112.8 469.9,112.7 471.0,112.6 472.0,112.5 473.0,112.5 474.0,112.5 475.0,112.5 476.2,112.5 477.3,112.6 478.4,112.7 479.5,112.8 480.6,112.9 481.7,113.1 482.8,113.3 483.8,113.5 484.8,113.8 485.9,114.0 486.9,114.3 488.0,114.6 489.0,114.9 489.9,115.1 490.9,115.4 491.9,115.7 492.9,116.0 493.9,116.3 495.0,116.7 496.0,117.1 497.0,117.5 498.0,118.0 499.1,118.4 500.1,118.9 501.2,119.4 502.2,119.9 503.3,120.4 504.3,120.9 505.4,121.3 506.4,121.8 507.4,122.3 508.4,122.8 509.5,123.3 510.6,123.8 511.7,124.3 512.6,124.8 513.6,125.2 514.6,125.7 515.7,126.2 516.7,126.7 517.7,127.3 518.8,127.8 519.8,128.3 520.8,128.7 521.7,129.2 522.8,129.7 523.9,130.3 524.9,130.8 526.0,131.3 527.0,131.8 528.0,132.2 529.0,132.7 530.0,133.2 531.0,133.7 532.0,134.1 533.0,134.5 533.9,135.0 534.9,135.4 536.0,135.9 537.1,136.4 538.3,136.9 539.3,137.3 540.3,137.8 541.4,138.3 542.5,138.8 543.7,139.3 544.8,139.8 546.0,140.3 547.1,140.8 548.1,141.2 549.1,141.6 550.0,142.0 551.3,142.6 552.4,143.0 553.4,143.4 554.3,143.7 555.3,144.1 556.4,144.6 557.4,145.0 558.4,145.5 559.4,145.9 560.5,146.4 561.6,147.0 562.7,147.5 563.8,148.0 565.0,148.5 566.0,148.9 566.9,149.4 568.0,149.8 569.0,150.3 570.0,150.7 571.1,151.2 572.1,151.6 573.1,152.0 574.1,152.4 575.0,152.8 576.2,153.3 577.3,153.7 578.4,154.0 579.4,154.4 580.4,154.7 581.6,155.1 582.8,155.5 583.8,155.8 584.8,156.2 585.9,156.5 587.0,156.9 588.1,157.3 589.2,157.7 590.3,158.0 591.4,158.4 592.4,158.7 593.3,159.0 594.6,159.4 595.8,159.8 596.8,160.2 597.8,160.5 598.8,160.8 600.0,161.2 600.9,161.5 601.9,161.8 602.8,162.1 603.8,162.4 604.9,162.8 605.9,163.1 607.1,163.4 608.3,163.8 609.2,164.1 610.2,164.3 611.1,164.6 612.1,164.9 613.2,165.2 614.2,165.5 615.3,165.8 616.4,166.1 617.6,166.4 618.8,166.7 620.0,167.0 620.9,167.2 621.9,167.5 622.9,167.7 623.9,167.9 625.0,168.2 626.1,168.4 627.2,168.7 628.2,168.9 629.3,169.2 630.4,169.4 631.5,169.7 632.5,169.9 633.6,170.1 634.5,170.4 635.5,170.6 636.6,170.9 637.7,171.1 638.8,171.4 639.8,171.6 640.8,171.9 641.8,172.1 642.8,172.4 643.8,172.6 644.8,172.9 645.9,173.1 646.9,173.4 648.0,173.6 649.0,173.8 650.0,174.0 651.0,174.3 652.0,174.5 653.1,174.7 654.1,174.9 655.2,175.2 656.2,175.4 657.2,175.6 658.2,175.8 659.2,176.0 660.2,176.2 661.1,176.4 662.0,176.6 663.1,176.8 664.1,177.0 665.0,177.2 665.9,177.4 666.8,177.6 667.6,177.8 668.5,178.0 669.6,178.2 670.7,178.4 672.0,178.6 672.8,178.7 673.6,178.9 674.5,179.0 675.3,179.2 676.2,179.3 677.1,179.5 678.1,179.6 679.1,179.8 680.1,180.0 681.1,180.1 682.1,180.3 683.2,180.5 684.3,180.6 685.4,180.8 686.5,181.0 687.6,181.1 688.8,181.3 690.0,181.5 690.9,181.6 691.8,181.8 692.8,181.9 693.9,182.1 695.0,182.2 696.1,182.4 697.2,182.5 698.4,182.7 699.5,182.9 700.7,183.0 701.9,183.2 703.0,183.4 704.2,183.5 705.3,183.7 706.5,183.8 707.6,184.0 708.6,184.1 709.6,184.3 710.6,184.4 711.5,184.5 712.3,184.6 713.1,184.7 713.8,184.8 714.5,184.9 715.0,185.0" fill="none" stroke="#0000ff" stroke-width="1.35" stroke-dasharray="4.1,4.2" stroke-linejoin="round"/>
<polyline points="421.7,84.2 422.4,83.5 423.2,82.5 424.3,81.3 425.5,80.0 426.7,78.7 428.0,77.5 429.0,76.7 430.0,75.8 431.1,74.9 432.2,74.0 433.4,73.2 434.5,72.4 435.6,71.6 436.7,70.8 437.8,70.1 438.8,69.4 439.8,68.7 440.9,68.1 441.9,67.5 442.9,66.9 444.0,66.4 445.0,65.8 446.0,65.3 447.1,64.7 448.1,64.2 449.1,63.7 450.2,63.3 451.2,62.8 452.3,62.4 453.3,62.0 454.3,61.6 455.4,61.3 456.4,60.9 457.5,60.6 458.6,60.3 459.6,60.0 460.7,59.8 461.7,59.5 462.7,59.3 463.8,59.0 464.8,58.8 465.9,58.6 466.9,58.5 467.9,58.3 469.0,58.2 470.0,58.1 471.0,58.0 472.1,58.0 473.1,57.9 474.1,57.9 475.2,57.9 476.2,58.0 477.3,58.0 478.3,58.1 479.3,58.2 480.4,58.3 481.4,58.5 482.5,58.7 483.6,58.9 484.6,59.1 485.7,59.3 486.7,59.6 487.7,59.9 488.8,60.2 489.8,60.5 490.9,60.9 491.9,61.2 492.9,61.6 494.0,62.0 495.0,62.4 496.0,62.8 497.1,63.2 498.1,63.7 499.1,64.1 500.2,64.6 501.2,65.1 502.3,65.5 503.3,66.0 504.3,66.5 505.4,67.0 506.4,67.5 507.5,68.0 508.6,68.5 509.6,69.0 510.7,69.5 511.7,70.0 512.7,70.5 513.8,71.0 514.8,71.6 515.8,72.1 516.8,72.6 517.9,73.2 518.9,73.7 520.0,74.3 521.0,74.8 521.9,75.3 522.9,75.9 523.9,76.4 524.9,77.0 526.0,77.5 527.0,78.0 528.0,78.5 529.0,79.0 530.0,79.5 531.1,79.9 532.1,80.3 533.2,80.7 534.2,81.2 535.3,81.6 536.3,82.0 537.3,82.4 538.3,82.8 539.4,83.3 540.5,83.8 541.5,84.3 542.6,84.7 543.6,85.2 544.6,85.7 545.7,86.2 546.7,86.7 547.7,87.2 548.8,87.7 549.8,88.2 550.9,88.7 551.9,89.2 552.9,89.6 554.0,90.1 555.0,90.6 556.0,91.1 557.1,91.5 558.1,92.0 559.1,92.5 560.2,92.9 561.2,93.4 562.3,93.8 563.3,94.2 564.3,94.7 565.4,95.0 566.4,95.4 567.5,95.8 568.6,96.1 569.6,96.5 570.7,96.8 571.7,97.2 572.7,97.6 573.8,97.9 574.8,98.3 575.9,98.7 576.9,99.0 577.9,99.4 579.0,99.8 580.0,100.1 581.0,100.4 582.1,100.8 583.1,101.1 584.1,101.4 585.2,101.7 586.2,102.0 587.3,102.3 588.3,102.6 589.3,102.9 590.4,103.2 591.4,103.5 592.5,103.8 593.6,104.1 594.6,104.5 595.7,104.8 596.7,105.1 597.7,105.4 598.8,105.7 599.9,106.1 600.9,106.4 602.0,106.7 603.0,107.1 604.0,107.4 605.0,107.8 606.1,108.3 607.2,108.7 608.2,109.3 609.3,109.8 610.3,110.3 611.4,110.8 612.5,111.2 613.5,111.5 614.5,111.9 615.5,112.2 616.6,112.5 617.6,112.8 618.7,113.0 619.8,113.3 620.8,113.6 621.9,113.9 622.9,114.1 624.0,114.4 625.1,114.6 626.2,114.9 627.2,115.2 628.2,115.4 629.2,115.7 630.4,116.1 631.6,116.5 632.7,117.0 633.7,117.4 634.8,117.8 635.8,118.2 637.0,118.6 638.1,118.9 639.2,119.2 640.4,119.5 641.7,119.8 642.7,120.0 643.7,120.2 644.8,120.5 646.0,120.7 647.1,120.9 648.2,121.1 649.1,121.3 650.0,121.5 651.3,121.8 652.4,122.0 653.3,122.1 654.2,122.2 655.2,122.2 656.2,122.1 657.2,121.9 658.3,121.9 659.2,121.9 660.1,121.9 661.0,122.0 662.1,122.1 663.3,122.3 664.2,122.4 665.2,122.6 666.2,122.8 667.3,123.0 668.4,123.2 669.5,123.5 670.6,123.7 671.7,124.0 672.8,124.3 673.9,124.7 675.0,125.1 676.2,125.5 677.3,125.8 678.3,126.2 679.2,126.6 680.0,126.9 681.4,127.5 682.3,128.0 683.3,128.6 684.2,129.1 685.2,129.6 686.3,130.1 687.3,130.7 688.3,131.3 689.4,132.2 690.4,133.3 691.5,134.2 692.5,135.0 693.6,135.4 694.6,135.6 695.7,135.7 696.7,135.9 697.7,136.2 698.8,136.6 699.8,137.0 700.8,137.2 701.9,137.3 703.0,137.4 704.0,137.3 705.0,137.2 706.2,136.7 707.2,136.0 708.3,135.7 709.4,135.9 710.6,136.5 711.7,137.2 712.9,138.3 714.0,139.6 714.8,140.5" fill="none" stroke="#ff00ff" stroke-width="1.4" stroke-linejoin="round"/>
<text x="103.20" y="24.60" font-size="11.1">Cr-oxide enrichment</text>
<path d="M54.00,28.30H249.40" stroke="#ff1010" stroke-width="1.25"/>
<path d="M51.00,28.30L57.60,26.10L56.94,28.30L57.60,30.50Z" fill="#ff1010"/>
<path d="M252.40,28.30L245.80,26.10L246.46,28.30L245.80,30.50Z" fill="#ff1010"/>
<path d="M255.50,28.30H340.60" stroke="#1a8f8c" stroke-width="1.25"/>
<path d="M252.50,28.30L259.10,26.10L258.44,28.30L259.10,30.50Z" fill="#1a8f8c"/>
<path d="M343.60,28.30L337.00,26.10L337.66,28.30L337.00,30.50Z" fill="#1a8f8c"/>
<text x="251.30" y="25.00" font-size="11.15">Quasi-steady state</text>
<path d="M54.00,44.30H249.30" stroke="#111" stroke-width="1.25"/>
<path d="M51.00,44.30L57.60,42.10L56.94,44.30L57.60,46.50Z" fill="#111"/>
<path d="M252.30,44.30L245.70,42.10L246.36,44.30L245.70,46.50Z" fill="#111"/>
<text x="110.90" y="44.30" font-size="11">Ni(OH)<tspan font-size="7.5" dy="3">2</tspan><tspan dy="-3"> formation</tspan></text>
<text x="100.00" y="58.70" font-size="11.2" style="fill:#ff00ff;stroke:#ff00ff;stroke-width:0.5px">i<tspan font-size="8.2" dy="3.6">EC</tspan></text>
<path d="M423.40,31.30H601.20" stroke="#111" stroke-width="1.25"/>
<path d="M420.40,31.30L427.00,29.10L426.34,31.30L427.00,33.50Z" fill="#111"/>
<path d="M604.20,31.30L597.60,29.10L598.26,31.30L597.60,33.50Z" fill="#111"/>
<path d="M607.90,31.30H712.60" stroke="#1a8f8c" stroke-width="1.25"/>
<path d="M604.90,31.30L611.50,29.10L610.84,31.30L611.50,33.50Z" fill="#1a8f8c"/>
<path d="M715.60,31.30L709.00,29.10L709.66,31.30L709.00,33.50Z" fill="#1a8f8c"/>
<text x="449.20" y="26.80" font-size="11.15">Ni,Cr,Mo film enrichment</text>
<text x="616.60" y="26.70" font-size="11.2">Quasi-steady state</text>
<text x="440.20" y="54.30" font-size="11.2" style="fill:#ff00ff;stroke:#ff00ff;stroke-width:0.5px">i<tspan font-size="8.2" dy="3.6">EC</tspan></text>
<path d="M266.00,61.40H290.80" stroke="#000000" stroke-width="1.3"/>
<text x="293.80" y="64.93" font-size="10.7">i<tspan font-size="7.5" dy="3.21">diss</tspan><tspan dy="-3.21"> Ni</tspan></text>
<path d="M266.00,78.00H290.80" stroke="#000000" stroke-width="1.3" stroke-dasharray="5.5,3.8"/>
<text x="293.80" y="81.53" font-size="10.7">i<tspan font-size="7.5" dy="3.21">cong diss</tspan><tspan dy="-3.21"> Ni</tspan></text>
<path d="M266.00,94.00H290.80" stroke="#ff0000" stroke-width="1.3"/>
<text x="293.80" y="97.53" font-size="10.7">i<tspan font-size="7.5" dy="3.21">diss</tspan><tspan dy="-3.21"> Cr</tspan></text>
<path d="M266.00,110.50H290.80" stroke="#ff0000" stroke-width="1.3" stroke-dasharray="5.5,3.8"/>
<text x="293.80" y="114.03" font-size="10.7">i<tspan font-size="7.5" dy="3.21">cong diss</tspan><tspan dy="-3.21"> Cr</tspan></text>
<path d="M634.40,38.75H656.30" stroke="#000000" stroke-width="1.3"/>
<text x="659.40" y="42.02" font-size="9.9">i<tspan font-size="6.9" dy="2.97">diss</tspan><tspan dy="-2.97"> Ni</tspan></text>
<path d="M634.40,53.50H656.30" stroke="#000000" stroke-width="1.3" stroke-dasharray="5,3.5"/>
<text x="659.40" y="56.77" font-size="9.9">i<tspan font-size="6.9" dy="2.97">cong diss</tspan><tspan dy="-2.97"> Ni</tspan></text>
<path d="M634.40,68.40H656.30" stroke="#ff0000" stroke-width="1.3"/>
<text x="659.40" y="71.67" font-size="9.9">i<tspan font-size="6.9" dy="2.97">diss</tspan><tspan dy="-2.97"> Cr</tspan></text>
<path d="M634.40,83.10H656.30" stroke="#ff0000" stroke-width="1.3" stroke-dasharray="5,3.5"/>
<text x="659.40" y="86.37" font-size="9.9">i<tspan font-size="6.9" dy="2.97">cong diss</tspan><tspan dy="-2.97"> Cr</tspan></text>
<path d="M634.40,97.75H656.30" stroke="#0000ff" stroke-width="1.3"/>
<text x="659.40" y="101.02" font-size="9.9">i<tspan font-size="6.9" dy="2.97">diss</tspan><tspan dy="-2.97"> Mo</tspan></text>
<path d="M634.40,112.75H656.30" stroke="#0000ff" stroke-width="1.3" stroke-dasharray="5,3.5"/>
<text x="659.40" y="116.02" font-size="9.9">i<tspan font-size="6.9" dy="2.97">cong diss</tspan><tspan dy="-2.97"> Mo</tspan></text>
</svg></body></html>
